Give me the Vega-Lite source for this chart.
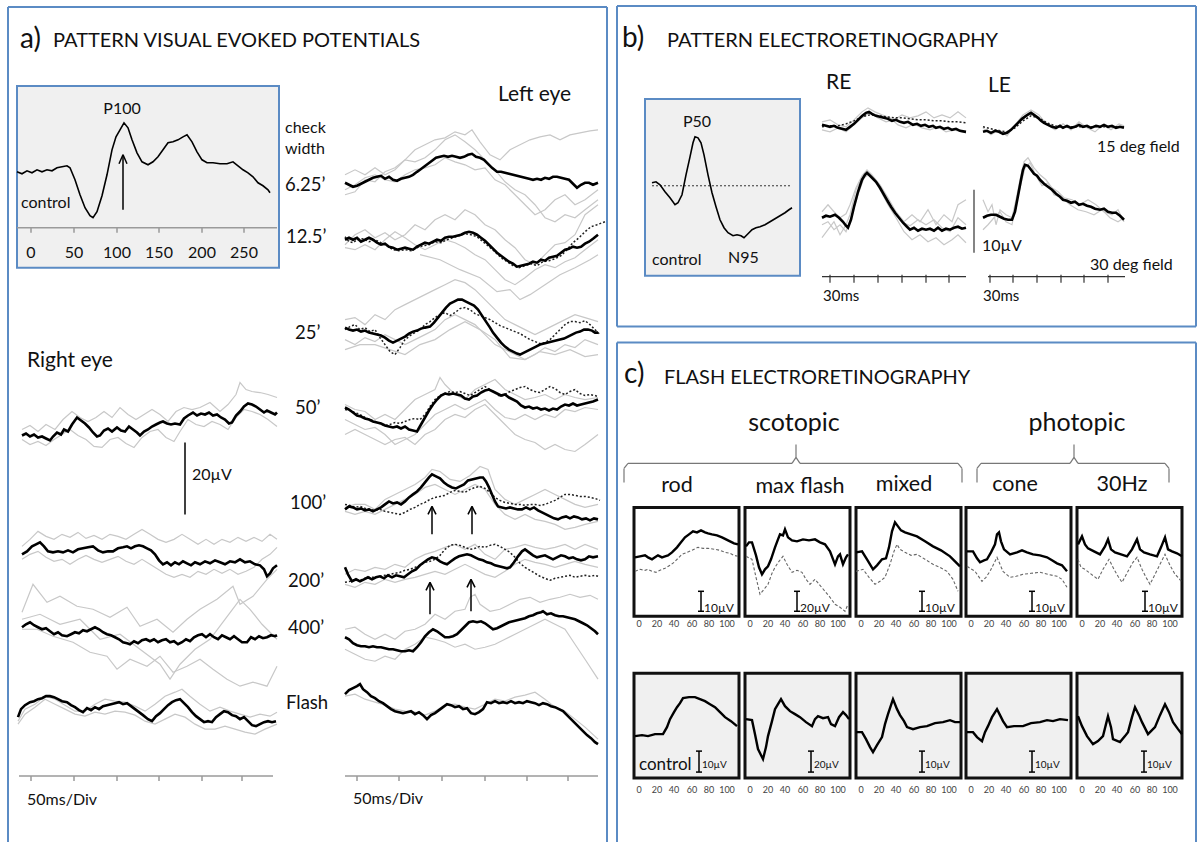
{
"$schema": "https://vega.github.io/schema/vega-lite/v6.json",
"width": 1200, "height": 843,
"autosize": {"type": "fit", "contains": "padding"},
"padding": 0,
"background": "white",
"config": {"view": {"stroke": null}, "font": "Lato"},
"encoding": {
  "x": {"field": "x", "type": "quantitative", "scale": {"domain": [0, 1200], "nice": false, "zero": false}, "axis": null},
  "y": {"field": "y", "type": "quantitative", "scale": {"domain": [0, 843], "nice": false, "zero": false, "reverse": true}, "axis": null}
},
"datasets": {
"boxes": [
{"k":"ins","x":17,"x2":279,"y":86,"y2":268},
{"k":"ins","x":645,"x2":800,"y":99,"y2":276},
{"k":"ew","x":634,"x2":739,"y":508,"y2":617},
{"k":"ew","x":745,"x2":850,"y":508,"y2":617},
{"k":"ew","x":856,"x2":961,"y":508,"y2":617},
{"k":"ew","x":966,"x2":1071,"y":508,"y2":617},
{"k":"ew","x":1077,"x2":1182,"y":508,"y2":617},
{"k":"eg","x":634,"x2":739,"y":674,"y2":779},
{"k":"eg","x":745,"x2":850,"y":674,"y2":779},
{"k":"eg","x":856,"x2":961,"y":674,"y2":779},
{"k":"eg","x":966,"x2":1071,"y":674,"y2":779},
{"k":"eg","x":1077,"x2":1182,"y":674,"y2":779}
],
"rules": [
{"s":"pb","x":8,"y":7,"x2":607,"y2":7},{"s":"pb","x":8,"y":7,"x2":8,"y2":843},{"s":"pb","x":607,"y":7,"x2":607,"y2":843},
{"s":"pb","x":617,"y":6,"x2":1196,"y2":6},{"s":"pb","x":617,"y":6,"x2":617,"y2":327},{"s":"pb","x":1196,"y":6,"x2":1196,"y2":327},{"s":"pb","x":617,"y":327,"x2":1196,"y2":327},
{"s":"pb","x":617,"y":343,"x2":1196,"y2":343},{"s":"pb","x":617,"y":343,"x2":617,"y2":843},{"s":"pb","x":1196,"y":343,"x2":1196,"y2":843},
{"s":"ax","x":17,"y":228,"x2":277,"y2":228},
{"s":"ax","x":31,"y":228,"x2":31,"y2":233},{"s":"ax","x":74,"y":228,"x2":74,"y2":233},{"s":"ax","x":117,"y":228,"x2":117,"y2":233},{"s":"ax","x":159,"y":228,"x2":159,"y2":233},{"s":"ax","x":202,"y":228,"x2":202,"y2":233},{"s":"ax","x":244,"y":228,"x2":244,"y2":233},
{"s":"ax","x":19,"y":777,"x2":273,"y2":777},
{"s":"ax","x":31,"y":777,"x2":31,"y2":782},{"s":"ax","x":74,"y":777,"x2":74,"y2":782},{"s":"ax","x":117,"y":777,"x2":117,"y2":782},{"s":"ax","x":159,"y":777,"x2":159,"y2":782},{"s":"ax","x":202,"y":777,"x2":202,"y2":782},{"s":"ax","x":242,"y":777,"x2":242,"y2":782},
{"s":"ax","x":345,"y":777,"x2":598,"y2":777},
{"s":"ax","x":357,"y":777,"x2":357,"y2":782},{"s":"ax","x":399,"y":777,"x2":399,"y2":782},{"s":"ax","x":442,"y":777,"x2":442,"y2":782},{"s":"ax","x":485,"y":777,"x2":485,"y2":782},{"s":"ax","x":527,"y":777,"x2":527,"y2":782},{"s":"ax","x":568,"y":777,"x2":568,"y2":782},
{"s":"axk","x":822,"y":277,"x2":966,"y2":277},
{"s":"axk","x":830,"y":275,"x2":830,"y2":283},{"s":"axk","x":854,"y":275,"x2":854,"y2":283},{"s":"axk","x":878,"y":275,"x2":878,"y2":283},{"s":"axk","x":902,"y":275,"x2":902,"y2":283},{"s":"axk","x":926,"y":275,"x2":926,"y2":283},{"s":"axk","x":949,"y":275,"x2":949,"y2":283},
{"s":"axk","x":988,"y":277,"x2":1125,"y2":277},
{"s":"axk","x":990,"y":275,"x2":990,"y2":283},{"s":"axk","x":1013,"y":275,"x2":1013,"y2":283},{"s":"axk","x":1037,"y":275,"x2":1037,"y2":283},{"s":"axk","x":1061,"y":275,"x2":1061,"y2":283},{"s":"axk","x":1084,"y":275,"x2":1084,"y2":283},{"s":"axk","x":1108,"y":275,"x2":1108,"y2":283},
{"s":"k","x":185,"y":443,"x2":185,"y2":515},
{"s":"axk","x":974,"y":190,"x2":974,"y2":253},
{"s":"k","x":123,"y":210,"x2":123,"y2":155},{"s":"k","x":123,"y":155,"x2":119,"y2":164},{"s":"k","x":123,"y":155,"x2":127,"y2":164},
{"s":"k","x":432,"y":535,"x2":432,"y2":507},{"s":"k","x":432,"y":507,"x2":428,"y2":515},{"s":"k","x":432,"y":507,"x2":436,"y2":515},
{"s":"k","x":472,"y":535,"x2":472,"y2":507},{"s":"k","x":472,"y":507,"x2":468,"y2":515},{"s":"k","x":472,"y":507,"x2":476,"y2":515},
{"s":"k","x":430,"y":615,"x2":430,"y2":583},{"s":"k","x":430,"y":583,"x2":426,"y2":591},{"s":"k","x":430,"y":583,"x2":434,"y2":591},
{"s":"k","x":471,"y":612,"x2":471,"y2":580},{"s":"k","x":471,"y":580,"x2":467,"y2":588},{"s":"k","x":471,"y":580,"x2":475,"y2":588},
{"s":"br","x":624,"y":483,"x2":624,"y2":469},{"s":"br","x":624,"y":469,"x2":628,"y2":464},{"s":"br","x":628,"y":464,"x2":792,"y2":464},{"s":"br","x":792,"y":464,"x2":796,"y2":458},{"s":"br","x":796,"y":458,"x2":796,"y2":445},{"s":"br","x":796,"y":458,"x2":800,"y2":464},{"s":"br","x":800,"y":464,"x2":958,"y2":464},{"s":"br","x":958,"y":464,"x2":962,"y2":469},{"s":"br","x":962,"y":469,"x2":962,"y2":483},
{"s":"br","x":977,"y":483,"x2":977,"y2":469},{"s":"br","x":977,"y":469,"x2":981,"y2":464},{"s":"br","x":981,"y":464,"x2":1070,"y2":464},{"s":"br","x":1070,"y":464,"x2":1074,"y2":458},{"s":"br","x":1074,"y":458,"x2":1074,"y2":445},{"s":"br","x":1074,"y":458,"x2":1078,"y2":464},{"s":"br","x":1078,"y":464,"x2":1165,"y2":464},{"s":"br","x":1165,"y":464,"x2":1169,"y2":469},{"s":"br","x":1169,"y":469,"x2":1169,"y2":483},
{"s":"k","x":701,"y":592,"x2":701,"y2":612},{"s":"k","x":698,"y":592,"x2":704,"y2":592},{"s":"k","x":698,"y":612,"x2":704,"y2":612},
{"s":"k","x":797,"y":592,"x2":797,"y2":612},{"s":"k","x":794,"y":592,"x2":800,"y2":592},{"s":"k","x":794,"y":612,"x2":800,"y2":612},
{"s":"k","x":922,"y":592,"x2":922,"y2":612},{"s":"k","x":919,"y":592,"x2":925,"y2":592},{"s":"k","x":919,"y":612,"x2":925,"y2":612},
{"s":"k","x":1032,"y":592,"x2":1032,"y2":612},{"s":"k","x":1029,"y":592,"x2":1035,"y2":592},{"s":"k","x":1029,"y":612,"x2":1035,"y2":612},
{"s":"k","x":1145,"y":592,"x2":1145,"y2":612},{"s":"k","x":1142,"y":592,"x2":1148,"y2":592},{"s":"k","x":1142,"y":612,"x2":1148,"y2":612},
{"s":"k","x":699,"y":752,"x2":699,"y2":773},{"s":"k","x":696,"y":752,"x2":702,"y2":752},{"s":"k","x":696,"y":773,"x2":702,"y2":773},
{"s":"k","x":811,"y":752,"x2":811,"y2":773},{"s":"k","x":808,"y":752,"x2":814,"y2":752},{"s":"k","x":808,"y":773,"x2":814,"y2":773},
{"s":"k","x":922,"y":752,"x2":922,"y2":773},{"s":"k","x":919,"y":752,"x2":925,"y2":752},{"s":"k","x":919,"y":773,"x2":925,"y2":773},
{"s":"k","x":1032,"y":752,"x2":1032,"y2":773},{"s":"k","x":1029,"y":752,"x2":1035,"y2":752},{"s":"k","x":1029,"y":773,"x2":1035,"y2":773},
{"s":"k","x":1144,"y":752,"x2":1144,"y2":773},{"s":"k","x":1141,"y":752,"x2":1147,"y2":752},{"s":"k","x":1141,"y":773,"x2":1147,"y2":773},
{"s":"dl","x":652,"y":186,"x2":792,"y2":186}
],
"texts": [
{"t":"a)","x":20,"y":48,"r":"big"},
{"t":"PATTERN VISUAL EVOKED POTENTIALS","x":53,"y":47,"r":"title"},
{"t":"P100","x":122,"y":114,"r":"labc"},
{"t":"control","x":21,"y":208,"r":"lab"},
{"t":"0","x":31,"y":258,"r":"labc"},{"t":"50","x":74,"y":258,"r":"labc"},{"t":"100","x":117,"y":258,"r":"labc"},{"t":"150","x":159,"y":258,"r":"labc"},{"t":"200","x":202,"y":258,"r":"labc"},{"t":"250","x":244,"y":258,"r":"labc"},
{"t":"check","x":285,"y":133,"r":"lab"},{"t":"width","x":285,"y":154,"r":"lab"},
{"t":"6.25\u2019","x":285,"y":191,"r":"row"},
{"t":"12.5\u2019","x":286,"y":243,"r":"row"},
{"t":"25\u2019","x":295,"y":339,"r":"row"},
{"t":"50\u2019","x":295,"y":414,"r":"row"},
{"t":"100\u2019","x":290,"y":510,"r":"row"},
{"t":"200\u2019","x":288,"y":588,"r":"row"},
{"t":"400\u2019","x":288,"y":635,"r":"row"},
{"t":"Flash","x":286,"y":710,"r":"row"},
{"t":"Left eye","x":498,"y":101,"r":"eye"},
{"t":"Right eye","x":27,"y":367,"r":"eye"},
{"t":"20\u00b5V","x":192,"y":481,"r":"lab"},
{"t":"50ms/Div","x":27,"y":806,"r":"lab"},
{"t":"50ms/Div","x":353,"y":805,"r":"lab"},
{"t":"b)","x":622,"y":47,"r":"big"},
{"t":"PATTERN ELECTRORETINOGRAPHY","x":667,"y":47,"r":"title"},
{"t":"P50","x":697,"y":127,"r":"labc"},
{"t":"control","x":652,"y":265,"r":"lab"},
{"t":"N95","x":728,"y":263,"r":"lab"},
{"t":"RE","x":826,"y":89,"r":"eye"},
{"t":"LE","x":988,"y":92,"r":"eye"},
{"t":"15 deg field","x":1097,"y":152,"r":"fld"},
{"t":"30 deg field","x":1090,"y":270,"r":"fld"},
{"t":"10\u00b5V","x":982,"y":251,"r":"fld"},
{"t":"30ms","x":823,"y":301,"r":"ms"},
{"t":"30ms","x":983,"y":301,"r":"ms"},
{"t":"c)","x":624,"y":383,"r":"big"},
{"t":"FLASH ELECTRORETINOGRAPHY","x":664,"y":384,"r":"title"},
{"t":"scotopic","x":794,"y":432,"r":"sc"},
{"t":"photopic","x":1077,"y":432,"r":"sc"},
{"t":"rod","x":677,"y":493,"r":"ty"},
{"t":"max flash","x":800,"y":494,"r":"ty"},
{"t":"mixed","x":904,"y":492,"r":"ty"},
{"t":"cone","x":1015,"y":492,"r":"ty"},
{"t":"30Hz","x":1122,"y":492,"r":"ty"},
{"t":"10\u00b5V","x":704,"y":613,"r":"es"},
{"t":"20\u00b5V","x":800,"y":613,"r":"es"},
{"t":"10\u00b5V","x":925,"y":613,"r":"es"},
{"t":"10\u00b5V","x":1035,"y":613,"r":"es"},
{"t":"10\u00b5V","x":1148,"y":613,"r":"es"},
{"t":"control","x":639,"y":771,"r":"ctl"},
{"t":"10\u00b5V","x":702,"y":769,"r":"ess"},
{"t":"20\u00b5V","x":814,"y":769,"r":"ess"},
{"t":"10\u00b5V","x":925,"y":769,"r":"ess"},
{"t":"10\u00b5V","x":1035,"y":769,"r":"ess"},
{"t":"10\u00b5V","x":1147,"y":769,"r":"ess"},
{"t":"0","x":639,"y":628,"r":"et"},{"t":"20","x":657,"y":628,"r":"et"},{"t":"40","x":674,"y":628,"r":"et"},{"t":"60","x":692,"y":628,"r":"et"},{"t":"80","x":709,"y":628,"r":"et"},{"t":"100","x":727,"y":628,"r":"et"},
{"t":"0","x":750,"y":628,"r":"et"},{"t":"20","x":768,"y":628,"r":"et"},{"t":"40","x":785,"y":628,"r":"et"},{"t":"60","x":803,"y":628,"r":"et"},{"t":"80","x":820,"y":628,"r":"et"},{"t":"100","x":838,"y":628,"r":"et"},
{"t":"0","x":861,"y":628,"r":"et"},{"t":"20","x":879,"y":628,"r":"et"},{"t":"40","x":896,"y":628,"r":"et"},{"t":"60","x":914,"y":628,"r":"et"},{"t":"80","x":931,"y":628,"r":"et"},{"t":"100","x":949,"y":628,"r":"et"},
{"t":"0","x":971,"y":628,"r":"et"},{"t":"20","x":989,"y":628,"r":"et"},{"t":"40","x":1006,"y":628,"r":"et"},{"t":"60","x":1024,"y":628,"r":"et"},{"t":"80","x":1041,"y":628,"r":"et"},{"t":"100","x":1059,"y":628,"r":"et"},
{"t":"0","x":1082,"y":628,"r":"et"},{"t":"20","x":1100,"y":628,"r":"et"},{"t":"40","x":1117,"y":628,"r":"et"},{"t":"60","x":1135,"y":628,"r":"et"},{"t":"80","x":1152,"y":628,"r":"et"},{"t":"100","x":1170,"y":628,"r":"et"},
{"t":"0","x":639,"y":794,"r":"et"},{"t":"20","x":657,"y":794,"r":"et"},{"t":"40","x":674,"y":794,"r":"et"},{"t":"60","x":692,"y":794,"r":"et"},{"t":"80","x":709,"y":794,"r":"et"},{"t":"100","x":727,"y":794,"r":"et"},
{"t":"0","x":750,"y":794,"r":"et"},{"t":"20","x":768,"y":794,"r":"et"},{"t":"40","x":785,"y":794,"r":"et"},{"t":"60","x":803,"y":794,"r":"et"},{"t":"80","x":820,"y":794,"r":"et"},{"t":"100","x":838,"y":794,"r":"et"},
{"t":"0","x":861,"y":794,"r":"et"},{"t":"20","x":879,"y":794,"r":"et"},{"t":"40","x":896,"y":794,"r":"et"},{"t":"60","x":914,"y":794,"r":"et"},{"t":"80","x":931,"y":794,"r":"et"},{"t":"100","x":949,"y":794,"r":"et"},
{"t":"0","x":971,"y":794,"r":"et"},{"t":"20","x":989,"y":794,"r":"et"},{"t":"40","x":1006,"y":794,"r":"et"},{"t":"60","x":1024,"y":794,"r":"et"},{"t":"80","x":1041,"y":794,"r":"et"},{"t":"100","x":1059,"y":794,"r":"et"},
{"t":"0","x":1082,"y":794,"r":"et"},{"t":"20","x":1100,"y":794,"r":"et"},{"t":"40","x":1117,"y":794,"r":"et"},{"t":"60","x":1135,"y":794,"r":"et"},{"t":"80","x":1152,"y":794,"r":"et"},{"t":"100","x":1170,"y":794,"r":"et"}
],
"traces": [
{"id":"ac","s":"c","x":17,"y":172},{"id":"ac","s":"c","x":22,"y":174},{"id":"ac","s":"c","x":27,"y":171},{"id":"ac","s":"c","x":32,"y":173},{"id":"ac","s":"c","x":37,"y":170},{"id":"ac","s":"c","x":42,"y":172},{"id":"ac","s":"c","x":47,"y":170},{"id":"ac","s":"c","x":52,"y":171},{"id":"ac","s":"c","x":57,"y":168},{"id":"ac","s":"c","x":62,"y":167},{"id":"ac","s":"c","x":67,"y":166},{"id":"ac","s":"c","x":70,"y":168},{"id":"ac","s":"c","x":75,"y":180},{"id":"ac","s":"c","x":80,"y":195},{"id":"ac","s":"c","x":85,"y":208},{"id":"ac","s":"c","x":90,"y":216},{"id":"ac","s":"c","x":93,"y":218},{"id":"ac","s":"c","x":97,"y":212},{"id":"ac","s":"c","x":102,"y":196},{"id":"ac","s":"c","x":107,"y":175},{"id":"ac","s":"c","x":112,"y":150},{"id":"ac","s":"c","x":116,"y":137},{"id":"ac","s":"c","x":120,"y":130},{"id":"ac","s":"c","x":124,"y":123},{"id":"ac","s":"c","x":128,"y":128},{"id":"ac","s":"c","x":132,"y":140},{"id":"ac","s":"c","x":137,"y":153},{"id":"ac","s":"c","x":142,"y":162},{"id":"ac","s":"c","x":148,"y":165},{"id":"ac","s":"c","x":153,"y":162},{"id":"ac","s":"c","x":158,"y":157},{"id":"ac","s":"c","x":163,"y":150},{"id":"ac","s":"c","x":168,"y":143},{"id":"ac","s":"c","x":173,"y":142},{"id":"ac","s":"c","x":178,"y":140},{"id":"ac","s":"c","x":183,"y":137},{"id":"ac","s":"c","x":187,"y":135},{"id":"ac","s":"c","x":192,"y":142},{"id":"ac","s":"c","x":197,"y":152},{"id":"ac","s":"c","x":202,"y":160},{"id":"ac","s":"c","x":207,"y":163},{"id":"ac","s":"c","x":213,"y":163},{"id":"ac","s":"c","x":220,"y":164},{"id":"ac","s":"c","x":227,"y":164},{"id":"ac","s":"c","x":233,"y":162},{"id":"ac","s":"c","x":238,"y":166},{"id":"ac","s":"c","x":243,"y":170},{"id":"ac","s":"c","x":248,"y":173},{"id":"ac","s":"c","x":253,"y":177},{"id":"ac","s":"c","x":258,"y":183},{"id":"ac","s":"c","x":263,"y":186},{"id":"ac","s":"c","x":268,"y":190},{"id":"ac","s":"c","x":270,"y":193},
{"id":"bc","s":"c","x":652,"y":183},{"id":"bc","s":"c","x":656,"y":182},{"id":"bc","s":"c","x":660,"y":185},{"id":"bc","s":"c","x":665,"y":192},{"id":"bc","s":"c","x":670,"y":198},{"id":"bc","s":"c","x":675,"y":205},{"id":"bc","s":"c","x":678,"y":203},{"id":"bc","s":"c","x":682,"y":195},{"id":"bc","s":"c","x":686,"y":175},{"id":"bc","s":"c","x":690,"y":157},{"id":"bc","s":"c","x":693,"y":143},{"id":"bc","s":"c","x":695,"y":137},{"id":"bc","s":"c","x":698,"y":138},{"id":"bc","s":"c","x":701,"y":143},{"id":"bc","s":"c","x":704,"y":155},{"id":"bc","s":"c","x":708,"y":175},{"id":"bc","s":"c","x":712,"y":193},{"id":"bc","s":"c","x":716,"y":207},{"id":"bc","s":"c","x":720,"y":220},{"id":"bc","s":"c","x":724,"y":228},{"id":"bc","s":"c","x":728,"y":233},{"id":"bc","s":"c","x":733,"y":236},{"id":"bc","s":"c","x":737,"y":235},{"id":"bc","s":"c","x":741,"y":236},{"id":"bc","s":"c","x":744,"y":238},{"id":"bc","s":"c","x":748,"y":234},{"id":"bc","s":"c","x":752,"y":230},{"id":"bc","s":"c","x":756,"y":228},{"id":"bc","s":"c","x":760,"y":227},{"id":"bc","s":"c","x":765,"y":225},{"id":"bc","s":"c","x":770,"y":222},{"id":"bc","s":"c","x":775,"y":219},{"id":"bc","s":"c","x":780,"y":216},{"id":"bc","s":"c","x":785,"y":213},{"id":"bc","s":"c","x":789,"y":210},{"id":"bc","s":"c","x":792,"y":208},

{"id":"r50g1","s":"g","x":22,"y":430},{"id":"r50g1","s":"g","x":30,"y":426},{"id":"r50g1","s":"g","x":38,"y":432},{"id":"r50g1","s":"g","x":46,"y":425},{"id":"r50g1","s":"g","x":55,"y":430},{"id":"r50g1","s":"g","x":63,"y":420},{"id":"r50g1","s":"g","x":72,"y":412},{"id":"r50g1","s":"g","x":80,"y":418},{"id":"r50g1","s":"g","x":88,"y":422},{"id":"r50g1","s":"g","x":96,"y":418},{"id":"r50g1","s":"g","x":104,"y":412},{"id":"r50g1","s":"g","x":112,"y":418},{"id":"r50g1","s":"g","x":120,"y":408},{"id":"r50g1","s":"g","x":128,"y":415},{"id":"r50g1","s":"g","x":136,"y":420},{"id":"r50g1","s":"g","x":144,"y":415},{"id":"r50g1","s":"g","x":152,"y":410},{"id":"r50g1","s":"g","x":160,"y":415},{"id":"r50g1","s":"g","x":168,"y":422},{"id":"r50g1","s":"g","x":176,"y":412},{"id":"r50g1","s":"g","x":184,"y":408},{"id":"r50g1","s":"g","x":192,"y":410},{"id":"r50g1","s":"g","x":200,"y":408},{"id":"r50g1","s":"g","x":210,"y":403},{"id":"r50g1","s":"g","x":220,"y":412},{"id":"r50g1","s":"g","x":228,"y":405},{"id":"r50g1","s":"g","x":236,"y":395},{"id":"r50g1","s":"g","x":240,"y":383},{"id":"r50g1","s":"g","x":246,"y":390},{"id":"r50g1","s":"g","x":252,"y":392},{"id":"r50g1","s":"g","x":260,"y":393},{"id":"r50g1","s":"g","x":268,"y":395},{"id":"r50g1","s":"g","x":277,"y":398},
{"id":"r50g2","s":"g","x":22,"y":440},{"id":"r50g2","s":"g","x":30,"y":445},{"id":"r50g2","s":"g","x":38,"y":442},{"id":"r50g2","s":"g","x":46,"y":446},{"id":"r50g2","s":"g","x":54,"y":440},{"id":"r50g2","s":"g","x":62,"y":435},{"id":"r50g2","s":"g","x":70,"y":430},{"id":"r50g2","s":"g","x":78,"y":436},{"id":"r50g2","s":"g","x":86,"y":440},{"id":"r50g2","s":"g","x":94,"y":447},{"id":"r50g2","s":"g","x":102,"y":448},{"id":"r50g2","s":"g","x":110,"y":440},{"id":"r50g2","s":"g","x":118,"y":438},{"id":"r50g2","s":"g","x":126,"y":444},{"id":"r50g2","s":"g","x":134,"y":448},{"id":"r50g2","s":"g","x":142,"y":438},{"id":"r50g2","s":"g","x":150,"y":432},{"id":"r50g2","s":"g","x":158,"y":430},{"id":"r50g2","s":"g","x":166,"y":438},{"id":"r50g2","s":"g","x":174,"y":442},{"id":"r50g2","s":"g","x":180,"y":432},{"id":"r50g2","s":"g","x":188,"y":420},{"id":"r50g2","s":"g","x":196,"y":425},{"id":"r50g2","s":"g","x":204,"y":427},{"id":"r50g2","s":"g","x":212,"y":422},{"id":"r50g2","s":"g","x":220,"y":425},{"id":"r50g2","s":"g","x":228,"y":430},{"id":"r50g2","s":"g","x":236,"y":418},{"id":"r50g2","s":"g","x":244,"y":410},{"id":"r50g2","s":"g","x":252,"y":412},{"id":"r50g2","s":"g","x":260,"y":415},{"id":"r50g2","s":"g","x":268,"y":420},{"id":"r50g2","s":"g","x":277,"y":427},

{"id":"r100g1","s":"g","x":22,"y":547},{"id":"r100g1","s":"g","x":30,"y":540},{"id":"r100g1","s":"g","x":38,"y":532},{"id":"r100g1","s":"g","x":46,"y":537},{"id":"r100g1","s":"g","x":54,"y":540},{"id":"r100g1","s":"g","x":62,"y":535},{"id":"r100g1","s":"g","x":70,"y":538},{"id":"r100g1","s":"g","x":78,"y":533},{"id":"r100g1","s":"g","x":86,"y":539},{"id":"r100g1","s":"g","x":94,"y":536},{"id":"r100g1","s":"g","x":102,"y":540},{"id":"r100g1","s":"g","x":110,"y":535},{"id":"r100g1","s":"g","x":118,"y":537},{"id":"r100g1","s":"g","x":126,"y":540},{"id":"r100g1","s":"g","x":134,"y":535},{"id":"r100g1","s":"g","x":142,"y":530},{"id":"r100g1","s":"g","x":150,"y":535},{"id":"r100g1","s":"g","x":158,"y":540},{"id":"r100g1","s":"g","x":166,"y":543},{"id":"r100g1","s":"g","x":174,"y":540},{"id":"r100g1","s":"g","x":182,"y":535},{"id":"r100g1","s":"g","x":190,"y":540},{"id":"r100g1","s":"g","x":198,"y":545},{"id":"r100g1","s":"g","x":206,"y":540},{"id":"r100g1","s":"g","x":214,"y":545},{"id":"r100g1","s":"g","x":222,"y":540},{"id":"r100g1","s":"g","x":230,"y":543},{"id":"r100g1","s":"g","x":238,"y":538},{"id":"r100g1","s":"g","x":246,"y":542},{"id":"r100g1","s":"g","x":254,"y":538},{"id":"r100g1","s":"g","x":262,"y":542},{"id":"r100g1","s":"g","x":270,"y":535},{"id":"r100g1","s":"g","x":277,"y":540},
{"id":"r100g2","s":"g","x":22,"y":560},{"id":"r100g2","s":"g","x":30,"y":555},{"id":"r100g2","s":"g","x":38,"y":552},{"id":"r100g2","s":"g","x":46,"y":558},{"id":"r100g2","s":"g","x":54,"y":562},{"id":"r100g2","s":"g","x":62,"y":560},{"id":"r100g2","s":"g","x":70,"y":565},{"id":"r100g2","s":"g","x":78,"y":560},{"id":"r100g2","s":"g","x":86,"y":556},{"id":"r100g2","s":"g","x":94,"y":560},{"id":"r100g2","s":"g","x":102,"y":563},{"id":"r100g2","s":"g","x":110,"y":560},{"id":"r100g2","s":"g","x":118,"y":557},{"id":"r100g2","s":"g","x":126,"y":562},{"id":"r100g2","s":"g","x":134,"y":565},{"id":"r100g2","s":"g","x":142,"y":560},{"id":"r100g2","s":"g","x":150,"y":565},{"id":"r100g2","s":"g","x":158,"y":570},{"id":"r100g2","s":"g","x":166,"y":575},{"id":"r100g2","s":"g","x":174,"y":578},{"id":"r100g2","s":"g","x":182,"y":575},{"id":"r100g2","s":"g","x":190,"y":578},{"id":"r100g2","s":"g","x":198,"y":572},{"id":"r100g2","s":"g","x":206,"y":575},{"id":"r100g2","s":"g","x":214,"y":570},{"id":"r100g2","s":"g","x":222,"y":574},{"id":"r100g2","s":"g","x":230,"y":570},{"id":"r100g2","s":"g","x":238,"y":575},{"id":"r100g2","s":"g","x":246,"y":572},{"id":"r100g2","s":"g","x":254,"y":568},{"id":"r100g2","s":"g","x":262,"y":560},{"id":"r100g2","s":"g","x":270,"y":555},{"id":"r100g2","s":"g","x":277,"y":548},

{"id":"r400g1","s":"g","x":22,"y":613},{"id":"r400g1","s":"g","x":33,"y":585},{"id":"r400g1","s":"g","x":47,"y":603},{"id":"r400g1","s":"g","x":60,"y":597},{"id":"r400g1","s":"g","x":77,"y":607},{"id":"r400g1","s":"g","x":93,"y":610},{"id":"r400g1","s":"g","x":110,"y":618},{"id":"r400g1","s":"g","x":127,"y":608},{"id":"r400g1","s":"g","x":140,"y":627},{"id":"r400g1","s":"g","x":157,"y":620},{"id":"r400g1","s":"g","x":173,"y":633},{"id":"r400g1","s":"g","x":187,"y":620},{"id":"r400g1","s":"g","x":200,"y":610},{"id":"r400g1","s":"g","x":217,"y":600},{"id":"r400g1","s":"g","x":233,"y":587},{"id":"r400g1","s":"g","x":240,"y":605},{"id":"r400g1","s":"g","x":253,"y":597},{"id":"r400g1","s":"g","x":267,"y":580},{"id":"r400g1","s":"g","x":277,"y":570},
{"id":"r400g2","s":"g","x":22,"y":630},{"id":"r400g2","s":"g","x":37,"y":630},{"id":"r400g2","s":"g","x":53,"y":637},{"id":"r400g2","s":"g","x":73,"y":643},{"id":"r400g2","s":"g","x":90,"y":653},{"id":"r400g2","s":"g","x":107,"y":657},{"id":"r400g2","s":"g","x":117,"y":670},{"id":"r400g2","s":"g","x":130,"y":660},{"id":"r400g2","s":"g","x":147,"y":667},{"id":"r400g2","s":"g","x":160,"y":657},{"id":"r400g2","s":"g","x":173,"y":673},{"id":"r400g2","s":"g","x":187,"y":667},{"id":"r400g2","s":"g","x":200,"y":660},{"id":"r400g2","s":"g","x":213,"y":670},{"id":"r400g2","s":"g","x":227,"y":680},{"id":"r400g2","s":"g","x":240,"y":687},{"id":"r400g2","s":"g","x":253,"y":683},{"id":"r400g2","s":"g","x":267,"y":687},{"id":"r400g2","s":"g","x":277,"y":667},
{"id":"r400g3","s":"g","x":22,"y":620},{"id":"r400g3","s":"g","x":40,"y":615},{"id":"r400g3","s":"g","x":60,"y":625},{"id":"r400g3","s":"g","x":80,"y":620},{"id":"r400g3","s":"g","x":100,"y":640},{"id":"r400g3","s":"g","x":120,"y":635},{"id":"r400g3","s":"g","x":140,"y":650},{"id":"r400g3","s":"g","x":160,"y":665},{"id":"r400g3","s":"g","x":170,"y":680},{"id":"r400g3","s":"g","x":180,"y":665},{"id":"r400g3","s":"g","x":195,"y":650},{"id":"r400g3","s":"g","x":210,"y":640},{"id":"r400g3","s":"g","x":225,"y":620},{"id":"r400g3","s":"g","x":240,"y":600},{"id":"r400g3","s":"g","x":250,"y":610},{"id":"r400g3","s":"g","x":262,"y":625},{"id":"r400g3","s":"g","x":277,"y":640},

{"id":"rfg1","s":"g","x":18,"y":722},{"id":"rfg1","s":"g","x":25,"y":710},{"id":"rfg1","s":"g","x":35,"y":705},{"id":"rfg1","s":"g","x":45,"y":697},{"id":"rfg1","s":"g","x":55,"y":700},{"id":"rfg1","s":"g","x":65,"y":706},{"id":"rfg1","s":"g","x":75,"y":712},{"id":"rfg1","s":"g","x":85,"y":712},{"id":"rfg1","s":"g","x":95,"y":705},{"id":"rfg1","s":"g","x":105,"y":700},{"id":"rfg1","s":"g","x":115,"y":702},{"id":"rfg1","s":"g","x":125,"y":703},{"id":"rfg1","s":"g","x":135,"y":707},{"id":"rfg1","s":"g","x":145,"y":712},{"id":"rfg1","s":"g","x":155,"y":705},{"id":"rfg1","s":"g","x":165,"y":697},{"id":"rfg1","s":"g","x":175,"y":693},{"id":"rfg1","s":"g","x":182,"y":690},{"id":"rfg1","s":"g","x":190,"y":697},{"id":"rfg1","s":"g","x":200,"y":705},{"id":"rfg1","s":"g","x":210,"y":712},{"id":"rfg1","s":"g","x":220,"y":708},{"id":"rfg1","s":"g","x":230,"y":712},{"id":"rfg1","s":"g","x":240,"y":715},{"id":"rfg1","s":"g","x":250,"y":718},{"id":"rfg1","s":"g","x":260,"y":715},{"id":"rfg1","s":"g","x":270,"y":717},{"id":"rfg1","s":"g","x":277,"y":713},
{"id":"rfg2","s":"g","x":18,"y":725},{"id":"rfg2","s":"g","x":25,"y":715},{"id":"rfg2","s":"g","x":35,"y":708},{"id":"rfg2","s":"g","x":45,"y":700},{"id":"rfg2","s":"g","x":55,"y":705},{"id":"rfg2","s":"g","x":65,"y":710},{"id":"rfg2","s":"g","x":75,"y":715},{"id":"rfg2","s":"g","x":85,"y":717},{"id":"rfg2","s":"g","x":95,"y":713},{"id":"rfg2","s":"g","x":105,"y":715},{"id":"rfg2","s":"g","x":115,"y":712},{"id":"rfg2","s":"g","x":125,"y":713},{"id":"rfg2","s":"g","x":135,"y":716},{"id":"rfg2","s":"g","x":145,"y":722},{"id":"rfg2","s":"g","x":155,"y":725},{"id":"rfg2","s":"g","x":165,"y":720},{"id":"rfg2","s":"g","x":175,"y":715},{"id":"rfg2","s":"g","x":185,"y":718},{"id":"rfg2","s":"g","x":195,"y":725},{"id":"rfg2","s":"g","x":205,"y":730},{"id":"rfg2","s":"g","x":215,"y":730},{"id":"rfg2","s":"g","x":225,"y":727},{"id":"rfg2","s":"g","x":235,"y":730},{"id":"rfg2","s":"g","x":245,"y":733},{"id":"rfg2","s":"g","x":255,"y":735},{"id":"rfg2","s":"g","x":265,"y":730},{"id":"rfg2","s":"g","x":277,"y":725},

{"id":"l6g1","s":"g","x":345,"y":175},{"id":"l6g1","s":"g","x":355,"y":170},{"id":"l6g1","s":"g","x":365,"y":175},{"id":"l6g1","s":"g","x":375,"y":168},{"id":"l6g1","s":"g","x":385,"y":175},{"id":"l6g1","s":"g","x":395,"y":170},{"id":"l6g1","s":"g","x":405,"y":160},{"id":"l6g1","s":"g","x":415,"y":150},{"id":"l6g1","s":"g","x":425,"y":145},{"id":"l6g1","s":"g","x":435,"y":140},{"id":"l6g1","s":"g","x":445,"y":138},{"id":"l6g1","s":"g","x":455,"y":132},{"id":"l6g1","s":"g","x":465,"y":135},{"id":"l6g1","s":"g","x":472,"y":130},{"id":"l6g1","s":"g","x":480,"y":142},{"id":"l6g1","s":"g","x":490,"y":155},{"id":"l6g1","s":"g","x":500,"y":160},{"id":"l6g1","s":"g","x":510,"y":150},{"id":"l6g1","s":"g","x":520,"y":145},{"id":"l6g1","s":"g","x":530,"y":140},{"id":"l6g1","s":"g","x":540,"y":137},{"id":"l6g1","s":"g","x":550,"y":135},{"id":"l6g1","s":"g","x":560,"y":140},{"id":"l6g1","s":"g","x":570,"y":135},{"id":"l6g1","s":"g","x":580,"y":133},{"id":"l6g1","s":"g","x":590,"y":131},{"id":"l6g1","s":"g","x":598,"y":130},
{"id":"l6g2","s":"g","x":345,"y":190},{"id":"l6g2","s":"g","x":355,"y":185},{"id":"l6g2","s":"g","x":365,"y":178},{"id":"l6g2","s":"g","x":375,"y":175},{"id":"l6g2","s":"g","x":385,"y":180},{"id":"l6g2","s":"g","x":395,"y":182},{"id":"l6g2","s":"g","x":405,"y":175},{"id":"l6g2","s":"g","x":415,"y":170},{"id":"l6g2","s":"g","x":425,"y":168},{"id":"l6g2","s":"g","x":435,"y":165},{"id":"l6g2","s":"g","x":445,"y":158},{"id":"l6g2","s":"g","x":455,"y":162},{"id":"l6g2","s":"g","x":465,"y":165},{"id":"l6g2","s":"g","x":475,"y":170},{"id":"l6g2","s":"g","x":485,"y":168},{"id":"l6g2","s":"g","x":495,"y":180},{"id":"l6g2","s":"g","x":505,"y":185},{"id":"l6g2","s":"g","x":515,"y":195},{"id":"l6g2","s":"g","x":525,"y":205},{"id":"l6g2","s":"g","x":535,"y":215},{"id":"l6g2","s":"g","x":545,"y":210},{"id":"l6g2","s":"g","x":555,"y":200},{"id":"l6g2","s":"g","x":565,"y":195},{"id":"l6g2","s":"g","x":575,"y":205},{"id":"l6g2","s":"g","x":585,"y":200},{"id":"l6g2","s":"g","x":598,"y":190},
{"id":"l6g3","s":"g","x":345,"y":195},{"id":"l6g3","s":"g","x":355,"y":192},{"id":"l6g3","s":"g","x":365,"y":180},{"id":"l6g3","s":"g","x":375,"y":182},{"id":"l6g3","s":"g","x":385,"y":172},{"id":"l6g3","s":"g","x":395,"y":168},{"id":"l6g3","s":"g","x":405,"y":160},{"id":"l6g3","s":"g","x":415,"y":162},{"id":"l6g3","s":"g","x":425,"y":158},{"id":"l6g3","s":"g","x":435,"y":150},{"id":"l6g3","s":"g","x":445,"y":140},{"id":"l6g3","s":"g","x":455,"y":135},{"id":"l6g3","s":"g","x":465,"y":142},{"id":"l6g3","s":"g","x":475,"y":150},{"id":"l6g3","s":"g","x":485,"y":160},{"id":"l6g3","s":"g","x":495,"y":170},{"id":"l6g3","s":"g","x":505,"y":182},{"id":"l6g3","s":"g","x":515,"y":190},{"id":"l6g3","s":"g","x":525,"y":195},{"id":"l6g3","s":"g","x":535,"y":205},{"id":"l6g3","s":"g","x":545,"y":218},{"id":"l6g3","s":"g","x":555,"y":222},{"id":"l6g3","s":"g","x":565,"y":215},{"id":"l6g3","s":"g","x":575,"y":218},{"id":"l6g3","s":"g","x":585,"y":210},{"id":"l6g3","s":"g","x":598,"y":200},

{"id":"l12g1","s":"g","x":345,"y":245},{"id":"l12g1","s":"g","x":355,"y":235},{"id":"l12g1","s":"g","x":365,"y":230},{"id":"l12g1","s":"g","x":375,"y":238},{"id":"l12g1","s":"g","x":385,"y":233},{"id":"l12g1","s":"g","x":395,"y":240},{"id":"l12g1","s":"g","x":405,"y":235},{"id":"l12g1","s":"g","x":415,"y":225},{"id":"l12g1","s":"g","x":425,"y":230},{"id":"l12g1","s":"g","x":435,"y":220},{"id":"l12g1","s":"g","x":445,"y":215},{"id":"l12g1","s":"g","x":455,"y":220},{"id":"l12g1","s":"g","x":465,"y":210},{"id":"l12g1","s":"g","x":475,"y":215},{"id":"l12g1","s":"g","x":485,"y":225},{"id":"l12g1","s":"g","x":495,"y":230},{"id":"l12g1","s":"g","x":505,"y":240},{"id":"l12g1","s":"g","x":515,"y":248},{"id":"l12g1","s":"g","x":525,"y":260},{"id":"l12g1","s":"g","x":535,"y":265},{"id":"l12g1","s":"g","x":545,"y":255},{"id":"l12g1","s":"g","x":555,"y":245},{"id":"l12g1","s":"g","x":565,"y":243},{"id":"l12g1","s":"g","x":575,"y":235},{"id":"l12g1","s":"g","x":585,"y":215},{"id":"l12g1","s":"g","x":598,"y":205},
{"id":"l12g2","s":"g","x":345,"y":248},{"id":"l12g2","s":"g","x":355,"y":250},{"id":"l12g2","s":"g","x":365,"y":245},{"id":"l12g2","s":"g","x":375,"y":250},{"id":"l12g2","s":"g","x":385,"y":240},{"id":"l12g2","s":"g","x":395,"y":232},{"id":"l12g2","s":"g","x":405,"y":238},{"id":"l12g2","s":"g","x":415,"y":245},{"id":"l12g2","s":"g","x":425,"y":250},{"id":"l12g2","s":"g","x":435,"y":245},{"id":"l12g2","s":"g","x":445,"y":240},{"id":"l12g2","s":"g","x":455,"y":243},{"id":"l12g2","s":"g","x":465,"y":248},{"id":"l12g2","s":"g","x":475,"y":255},{"id":"l12g2","s":"g","x":485,"y":260},{"id":"l12g2","s":"g","x":495,"y":270},{"id":"l12g2","s":"g","x":505,"y":280},{"id":"l12g2","s":"g","x":515,"y":285},{"id":"l12g2","s":"g","x":525,"y":278},{"id":"l12g2","s":"g","x":535,"y":270},{"id":"l12g2","s":"g","x":545,"y":265},{"id":"l12g2","s":"g","x":555,"y":268},{"id":"l12g2","s":"g","x":565,"y":262},{"id":"l12g2","s":"g","x":575,"y":258},{"id":"l12g2","s":"g","x":585,"y":250},{"id":"l12g2","s":"g","x":598,"y":240},
{"id":"l12g3","s":"g","x":420,"y":255},{"id":"l12g3","s":"g","x":440,"y":260},{"id":"l12g3","s":"g","x":460,"y":270},{"id":"l12g3","s":"g","x":480,"y":278},{"id":"l12g3","s":"g","x":497,"y":292},{"id":"l12g3","s":"g","x":510,"y":290},{"id":"l12g3","s":"g","x":520,"y":300},{"id":"l12g3","s":"g","x":530,"y":295},{"id":"l12g3","s":"g","x":545,"y":285},{"id":"l12g3","s":"g","x":560,"y":275},{"id":"l12g3","s":"g","x":575,"y":268},{"id":"l12g3","s":"g","x":590,"y":260},{"id":"l12g3","s":"g","x":598,"y":255},

{"id":"l25g1","s":"g","x":345,"y":320},{"id":"l25g1","s":"g","x":355,"y":318},{"id":"l25g1","s":"g","x":365,"y":325},{"id":"l25g1","s":"g","x":375,"y":315},{"id":"l25g1","s":"g","x":385,"y":320},{"id":"l25g1","s":"g","x":395,"y":310},{"id":"l25g1","s":"g","x":405,"y":305},{"id":"l25g1","s":"g","x":415,"y":300},{"id":"l25g1","s":"g","x":425,"y":295},{"id":"l25g1","s":"g","x":435,"y":290},{"id":"l25g1","s":"g","x":445,"y":285},{"id":"l25g1","s":"g","x":455,"y":280},{"id":"l25g1","s":"g","x":465,"y":283},{"id":"l25g1","s":"g","x":475,"y":290},{"id":"l25g1","s":"g","x":485,"y":300},{"id":"l25g1","s":"g","x":495,"y":310},{"id":"l25g1","s":"g","x":505,"y":320},{"id":"l25g1","s":"g","x":515,"y":325},{"id":"l25g1","s":"g","x":525,"y":330},{"id":"l25g1","s":"g","x":535,"y":335},{"id":"l25g1","s":"g","x":545,"y":330},{"id":"l25g1","s":"g","x":555,"y":325},{"id":"l25g1","s":"g","x":565,"y":320},{"id":"l25g1","s":"g","x":575,"y":315},{"id":"l25g1","s":"g","x":585,"y":318},{"id":"l25g1","s":"g","x":598,"y":322},
{"id":"l25g2","s":"g","x":345,"y":340},{"id":"l25g2","s":"g","x":355,"y":345},{"id":"l25g2","s":"g","x":365,"y":338},{"id":"l25g2","s":"g","x":375,"y":342},{"id":"l25g2","s":"g","x":385,"y":335},{"id":"l25g2","s":"g","x":395,"y":340},{"id":"l25g2","s":"g","x":405,"y":345},{"id":"l25g2","s":"g","x":415,"y":340},{"id":"l25g2","s":"g","x":425,"y":335},{"id":"l25g2","s":"g","x":435,"y":330},{"id":"l25g2","s":"g","x":445,"y":320},{"id":"l25g2","s":"g","x":455,"y":315},{"id":"l25g2","s":"g","x":465,"y":320},{"id":"l25g2","s":"g","x":475,"y":325},{"id":"l25g2","s":"g","x":485,"y":335},{"id":"l25g2","s":"g","x":495,"y":345},{"id":"l25g2","s":"g","x":505,"y":350},{"id":"l25g2","s":"g","x":515,"y":355},{"id":"l25g2","s":"g","x":525,"y":360},{"id":"l25g2","s":"g","x":535,"y":355},{"id":"l25g2","s":"g","x":545,"y":348},{"id":"l25g2","s":"g","x":555,"y":352},{"id":"l25g2","s":"g","x":565,"y":345},{"id":"l25g2","s":"g","x":575,"y":348},{"id":"l25g2","s":"g","x":585,"y":340},{"id":"l25g2","s":"g","x":598,"y":345},
{"id":"l25g3","s":"g","x":345,"y":350},{"id":"l25g3","s":"g","x":360,"y":345},{"id":"l25g3","s":"g","x":375,"y":345},{"id":"l25g3","s":"g","x":390,"y":350},{"id":"l25g3","s":"g","x":405,"y":355},{"id":"l25g3","s":"g","x":420,"y":345},{"id":"l25g3","s":"g","x":435,"y":340},{"id":"l25g3","s":"g","x":450,"y":330},{"id":"l25g3","s":"g","x":465,"y":322},{"id":"l25g3","s":"g","x":480,"y":330},{"id":"l25g3","s":"g","x":495,"y":340},{"id":"l25g3","s":"g","x":510,"y":358},{"id":"l25g3","s":"g","x":525,"y":360},{"id":"l25g3","s":"g","x":540,"y":352},{"id":"l25g3","s":"g","x":555,"y":355},{"id":"l25g3","s":"g","x":570,"y":350},{"id":"l25g3","s":"g","x":585,"y":357},{"id":"l25g3","s":"g","x":598,"y":355},

{"id":"l50g1","s":"g","x":345,"y":405},{"id":"l50g1","s":"g","x":355,"y":410},{"id":"l50g1","s":"g","x":365,"y":412},{"id":"l50g1","s":"g","x":375,"y":420},{"id":"l50g1","s":"g","x":385,"y":415},{"id":"l50g1","s":"g","x":395,"y":420},{"id":"l50g1","s":"g","x":405,"y":410},{"id":"l50g1","s":"g","x":415,"y":400},{"id":"l50g1","s":"g","x":425,"y":395},{"id":"l50g1","s":"g","x":435,"y":390},{"id":"l50g1","s":"g","x":440,"y":378},{"id":"l50g1","s":"g","x":445,"y":385},{"id":"l50g1","s":"g","x":455,"y":395},{"id":"l50g1","s":"g","x":465,"y":400},{"id":"l50g1","s":"g","x":475,"y":390},{"id":"l50g1","s":"g","x":485,"y":385},{"id":"l50g1","s":"g","x":495,"y":380},{"id":"l50g1","s":"g","x":505,"y":390},{"id":"l50g1","s":"g","x":515,"y":395},{"id":"l50g1","s":"g","x":525,"y":400},{"id":"l50g1","s":"g","x":535,"y":398},{"id":"l50g1","s":"g","x":545,"y":395},{"id":"l50g1","s":"g","x":555,"y":400},{"id":"l50g1","s":"g","x":565,"y":395},{"id":"l50g1","s":"g","x":575,"y":398},{"id":"l50g1","s":"g","x":585,"y":400},{"id":"l50g1","s":"g","x":598,"y":398},
{"id":"l50g2","s":"g","x":345,"y":435},{"id":"l50g2","s":"g","x":355,"y":430},{"id":"l50g2","s":"g","x":365,"y":435},{"id":"l50g2","s":"g","x":375,"y":440},{"id":"l50g2","s":"g","x":385,"y":445},{"id":"l50g2","s":"g","x":395,"y":440},{"id":"l50g2","s":"g","x":405,"y":438},{"id":"l50g2","s":"g","x":415,"y":445},{"id":"l50g2","s":"g","x":425,"y":435},{"id":"l50g2","s":"g","x":435,"y":430},{"id":"l50g2","s":"g","x":445,"y":420},{"id":"l50g2","s":"g","x":455,"y":415},{"id":"l50g2","s":"g","x":465,"y":418},{"id":"l50g2","s":"g","x":475,"y":410},{"id":"l50g2","s":"g","x":485,"y":405},{"id":"l50g2","s":"g","x":495,"y":415},{"id":"l50g2","s":"g","x":505,"y":425},{"id":"l50g2","s":"g","x":515,"y":435},{"id":"l50g2","s":"g","x":525,"y":440},{"id":"l50g2","s":"g","x":535,"y":443},{"id":"l50g2","s":"g","x":545,"y":450},{"id":"l50g2","s":"g","x":555,"y":445},{"id":"l50g2","s":"g","x":565,"y":450},{"id":"l50g2","s":"g","x":575,"y":452},{"id":"l50g2","s":"g","x":585,"y":445},{"id":"l50g2","s":"g","x":598,"y":435},
{"id":"l50g3","s":"g","x":345,"y":420},{"id":"l50g3","s":"g","x":355,"y":425},{"id":"l50g3","s":"g","x":365,"y":430},{"id":"l50g3","s":"g","x":375,"y":428},{"id":"l50g3","s":"g","x":385,"y":435},{"id":"l50g3","s":"g","x":395,"y":445},{"id":"l50g3","s":"g","x":405,"y":440},{"id":"l50g3","s":"g","x":415,"y":435},{"id":"l50g3","s":"g","x":425,"y":425},{"id":"l50g3","s":"g","x":435,"y":415},{"id":"l50g3","s":"g","x":445,"y":410},{"id":"l50g3","s":"g","x":455,"y":405},{"id":"l50g3","s":"g","x":465,"y":410},{"id":"l50g3","s":"g","x":475,"y":405},{"id":"l50g3","s":"g","x":485,"y":400},{"id":"l50g3","s":"g","x":495,"y":410},{"id":"l50g3","s":"g","x":505,"y":418},{"id":"l50g3","s":"g","x":515,"y":420},{"id":"l50g3","s":"g","x":525,"y":415},{"id":"l50g3","s":"g","x":535,"y":420},{"id":"l50g3","s":"g","x":545,"y":415},{"id":"l50g3","s":"g","x":555,"y":418},{"id":"l50g3","s":"g","x":565,"y":410},{"id":"l50g3","s":"g","x":575,"y":412},{"id":"l50g3","s":"g","x":585,"y":408},{"id":"l50g3","s":"g","x":598,"y":410},

{"id":"l100g1","s":"g","x":345,"y":508},{"id":"l100g1","s":"g","x":355,"y":505},{"id":"l100g1","s":"g","x":365,"y":505},{"id":"l100g1","s":"g","x":375,"y":510},{"id":"l100g1","s":"g","x":385,"y":500},{"id":"l100g1","s":"g","x":395,"y":495},{"id":"l100g1","s":"g","x":405,"y":490},{"id":"l100g1","s":"g","x":415,"y":485},{"id":"l100g1","s":"g","x":425,"y":478},{"id":"l100g1","s":"g","x":432,"y":470},{"id":"l100g1","s":"g","x":440,"y":472},{"id":"l100g1","s":"g","x":450,"y":480},{"id":"l100g1","s":"g","x":460,"y":482},{"id":"l100g1","s":"g","x":470,"y":476},{"id":"l100g1","s":"g","x":480,"y":467},{"id":"l100g1","s":"g","x":488,"y":470},{"id":"l100g1","s":"g","x":495,"y":490},{"id":"l100g1","s":"g","x":505,"y":500},{"id":"l100g1","s":"g","x":515,"y":505},{"id":"l100g1","s":"g","x":525,"y":500},{"id":"l100g1","s":"g","x":535,"y":495},{"id":"l100g1","s":"g","x":545,"y":490},{"id":"l100g1","s":"g","x":555,"y":495},{"id":"l100g1","s":"g","x":565,"y":500},{"id":"l100g1","s":"g","x":575,"y":505},{"id":"l100g1","s":"g","x":585,"y":508},{"id":"l100g1","s":"g","x":598,"y":505},
{"id":"l100g2","s":"g","x":345,"y":512},{"id":"l100g2","s":"g","x":355,"y":515},{"id":"l100g2","s":"g","x":365,"y":512},{"id":"l100g2","s":"g","x":375,"y":515},{"id":"l100g2","s":"g","x":385,"y":510},{"id":"l100g2","s":"g","x":395,"y":505},{"id":"l100g2","s":"g","x":405,"y":500},{"id":"l100g2","s":"g","x":415,"y":495},{"id":"l100g2","s":"g","x":425,"y":488},{"id":"l100g2","s":"g","x":435,"y":485},{"id":"l100g2","s":"g","x":445,"y":490},{"id":"l100g2","s":"g","x":455,"y":495},{"id":"l100g2","s":"g","x":465,"y":490},{"id":"l100g2","s":"g","x":475,"y":485},{"id":"l100g2","s":"g","x":485,"y":490},{"id":"l100g2","s":"g","x":495,"y":505},{"id":"l100g2","s":"g","x":505,"y":515},{"id":"l100g2","s":"g","x":515,"y":520},{"id":"l100g2","s":"g","x":525,"y":515},{"id":"l100g2","s":"g","x":535,"y":520},{"id":"l100g2","s":"g","x":545,"y":522},{"id":"l100g2","s":"g","x":555,"y":525},{"id":"l100g2","s":"g","x":565,"y":530},{"id":"l100g2","s":"g","x":575,"y":528},{"id":"l100g2","s":"g","x":585,"y":525},{"id":"l100g2","s":"g","x":598,"y":522},

{"id":"l200g1","s":"g","x":345,"y":575},{"id":"l200g1","s":"g","x":355,"y":570},{"id":"l200g1","s":"g","x":365,"y":572},{"id":"l200g1","s":"g","x":375,"y":568},{"id":"l200g1","s":"g","x":385,"y":570},{"id":"l200g1","s":"g","x":395,"y":565},{"id":"l200g1","s":"g","x":405,"y":568},{"id":"l200g1","s":"g","x":415,"y":560},{"id":"l200g1","s":"g","x":425,"y":555},{"id":"l200g1","s":"g","x":435,"y":552},{"id":"l200g1","s":"g","x":445,"y":548},{"id":"l200g1","s":"g","x":455,"y":545},{"id":"l200g1","s":"g","x":465,"y":550},{"id":"l200g1","s":"g","x":475,"y":545},{"id":"l200g1","s":"g","x":485,"y":555},{"id":"l200g1","s":"g","x":495,"y":560},{"id":"l200g1","s":"g","x":505,"y":550},{"id":"l200g1","s":"g","x":515,"y":548},{"id":"l200g1","s":"g","x":525,"y":545},{"id":"l200g1","s":"g","x":535,"y":548},{"id":"l200g1","s":"g","x":545,"y":550},{"id":"l200g1","s":"g","x":555,"y":548},{"id":"l200g1","s":"g","x":565,"y":545},{"id":"l200g1","s":"g","x":575,"y":550},{"id":"l200g1","s":"g","x":585,"y":545},{"id":"l200g1","s":"g","x":598,"y":550},
{"id":"l200g2","s":"g","x":345,"y":585},{"id":"l200g2","s":"g","x":355,"y":588},{"id":"l200g2","s":"g","x":365,"y":583},{"id":"l200g2","s":"g","x":375,"y":585},{"id":"l200g2","s":"g","x":385,"y":580},{"id":"l200g2","s":"g","x":395,"y":583},{"id":"l200g2","s":"g","x":405,"y":580},{"id":"l200g2","s":"g","x":415,"y":578},{"id":"l200g2","s":"g","x":425,"y":575},{"id":"l200g2","s":"g","x":435,"y":572},{"id":"l200g2","s":"g","x":445,"y":575},{"id":"l200g2","s":"g","x":455,"y":570},{"id":"l200g2","s":"g","x":465,"y":565},{"id":"l200g2","s":"g","x":475,"y":570},{"id":"l200g2","s":"g","x":485,"y":575},{"id":"l200g2","s":"g","x":495,"y":578},{"id":"l200g2","s":"g","x":505,"y":572},{"id":"l200g2","s":"g","x":515,"y":565},{"id":"l200g2","s":"g","x":525,"y":560},{"id":"l200g2","s":"g","x":535,"y":563},{"id":"l200g2","s":"g","x":545,"y":565},{"id":"l200g2","s":"g","x":555,"y":568},{"id":"l200g2","s":"g","x":565,"y":565},{"id":"l200g2","s":"g","x":575,"y":562},{"id":"l200g2","s":"g","x":585,"y":565},{"id":"l200g2","s":"g","x":598,"y":568},

{"id":"l400g1","s":"g","x":345,"y":630},{"id":"l400g1","s":"g","x":355,"y":628},{"id":"l400g1","s":"g","x":365,"y":635},{"id":"l400g1","s":"g","x":375,"y":640},{"id":"l400g1","s":"g","x":385,"y":635},{"id":"l400g1","s":"g","x":395,"y":640},{"id":"l400g1","s":"g","x":405,"y":632},{"id":"l400g1","s":"g","x":415,"y":630},{"id":"l400g1","s":"g","x":425,"y":625},{"id":"l400g1","s":"g","x":435,"y":615},{"id":"l400g1","s":"g","x":445,"y":620},{"id":"l400g1","s":"g","x":455,"y":612},{"id":"l400g1","s":"g","x":465,"y":610},{"id":"l400g1","s":"g","x":470,"y":598},{"id":"l400g1","s":"g","x":475,"y":595},{"id":"l400g1","s":"g","x":480,"y":605},{"id":"l400g1","s":"g","x":490,"y":612},{"id":"l400g1","s":"g","x":500,"y":610},{"id":"l400g1","s":"g","x":510,"y":605},{"id":"l400g1","s":"g","x":520,"y":600},{"id":"l400g1","s":"g","x":530,"y":598},{"id":"l400g1","s":"g","x":540,"y":603},{"id":"l400g1","s":"g","x":550,"y":600},{"id":"l400g1","s":"g","x":560,"y":598},{"id":"l400g1","s":"g","x":570,"y":595},{"id":"l400g1","s":"g","x":580,"y":598},{"id":"l400g1","s":"g","x":590,"y":596},{"id":"l400g1","s":"g","x":598,"y":600},
{"id":"l400g2","s":"g","x":345,"y":650},{"id":"l400g2","s":"g","x":355,"y":655},{"id":"l400g2","s":"g","x":365,"y":660},{"id":"l400g2","s":"g","x":375,"y":662},{"id":"l400g2","s":"g","x":385,"y":657},{"id":"l400g2","s":"g","x":395,"y":660},{"id":"l400g2","s":"g","x":405,"y":650},{"id":"l400g2","s":"g","x":415,"y":645},{"id":"l400g2","s":"g","x":425,"y":638},{"id":"l400g2","s":"g","x":435,"y":640},{"id":"l400g2","s":"g","x":445,"y":643},{"id":"l400g2","s":"g","x":455,"y":648},{"id":"l400g2","s":"g","x":465,"y":645},{"id":"l400g2","s":"g","x":475,"y":650},{"id":"l400g2","s":"g","x":485,"y":648},{"id":"l400g2","s":"g","x":495,"y":645},{"id":"l400g2","s":"g","x":505,"y":640},{"id":"l400g2","s":"g","x":515,"y":635},{"id":"l400g2","s":"g","x":525,"y":630},{"id":"l400g2","s":"g","x":535,"y":625},{"id":"l400g2","s":"g","x":545,"y":620},{"id":"l400g2","s":"g","x":555,"y":625},{"id":"l400g2","s":"g","x":565,"y":630},{"id":"l400g2","s":"g","x":575,"y":645},{"id":"l400g2","s":"g","x":585,"y":660},{"id":"l400g2","s":"g","x":598,"y":680},

{"id":"lfg1","s":"g","x":345,"y":697},{"id":"lfg1","s":"g","x":355,"y":695},{"id":"lfg1","s":"g","x":365,"y":700},{"id":"lfg1","s":"g","x":375,"y":703},{"id":"lfg1","s":"g","x":385,"y":706},{"id":"lfg1","s":"g","x":395,"y":710},{"id":"lfg1","s":"g","x":405,"y":712},{"id":"lfg1","s":"g","x":415,"y":713},{"id":"lfg1","s":"g","x":425,"y":716},{"id":"lfg1","s":"g","x":435,"y":712},{"id":"lfg1","s":"g","x":445,"y":706},{"id":"lfg1","s":"g","x":455,"y":705},{"id":"lfg1","s":"g","x":465,"y":708},{"id":"lfg1","s":"g","x":475,"y":710},{"id":"lfg1","s":"g","x":485,"y":705},{"id":"lfg1","s":"g","x":495,"y":700},{"id":"lfg1","s":"g","x":505,"y":702},{"id":"lfg1","s":"g","x":515,"y":698},{"id":"lfg1","s":"g","x":525,"y":696},{"id":"lfg1","s":"g","x":535,"y":693},{"id":"lfg1","s":"g","x":545,"y":700},{"id":"lfg1","s":"g","x":555,"y":708},{"id":"lfg1","s":"g","x":565,"y":712},{"id":"lfg1","s":"g","x":575,"y":720},{"id":"lfg1","s":"g","x":585,"y":728},{"id":"lfg1","s":"g","x":598,"y":740},

{"id":"b1g1","s":"g","x":822,"y":122},{"id":"b1g1","s":"g","x":830,"y":120},{"id":"b1g1","s":"g","x":838,"y":125},{"id":"b1g1","s":"g","x":846,"y":127},{"id":"b1g1","s":"g","x":854,"y":120},{"id":"b1g1","s":"g","x":862,"y":112},{"id":"b1g1","s":"g","x":868,"y":108},{"id":"b1g1","s":"g","x":875,"y":112},{"id":"b1g1","s":"g","x":882,"y":115},{"id":"b1g1","s":"g","x":890,"y":118},{"id":"b1g1","s":"g","x":898,"y":125},{"id":"b1g1","s":"g","x":906,"y":128},{"id":"b1g1","s":"g","x":914,"y":124},{"id":"b1g1","s":"g","x":922,"y":128},{"id":"b1g1","s":"g","x":930,"y":130},{"id":"b1g1","s":"g","x":938,"y":127},{"id":"b1g1","s":"g","x":946,"y":132},{"id":"b1g1","s":"g","x":954,"y":130},{"id":"b1g1","s":"g","x":966,"y":133},
{"id":"b1g2","s":"g","x":822,"y":130},{"id":"b1g2","s":"g","x":830,"y":132},{"id":"b1g2","s":"g","x":838,"y":128},{"id":"b1g2","s":"g","x":846,"y":132},{"id":"b1g2","s":"g","x":854,"y":125},{"id":"b1g2","s":"g","x":862,"y":118},{"id":"b1g2","s":"g","x":870,"y":113},{"id":"b1g2","s":"g","x":878,"y":118},{"id":"b1g2","s":"g","x":886,"y":122},{"id":"b1g2","s":"g","x":894,"y":120},{"id":"b1g2","s":"g","x":902,"y":115},{"id":"b1g2","s":"g","x":910,"y":118},{"id":"b1g2","s":"g","x":918,"y":116},{"id":"b1g2","s":"g","x":926,"y":112},{"id":"b1g2","s":"g","x":934,"y":118},{"id":"b1g2","s":"g","x":942,"y":115},{"id":"b1g2","s":"g","x":950,"y":118},{"id":"b1g2","s":"g","x":958,"y":112},{"id":"b1g2","s":"g","x":966,"y":118},
{"id":"b2g1","s":"g","x":983,"y":128},{"id":"b2g1","s":"g","x":991,"y":135},{"id":"b2g1","s":"g","x":999,"y":130},{"id":"b2g1","s":"g","x":1007,"y":136},{"id":"b2g1","s":"g","x":1015,"y":125},{"id":"b2g1","s":"g","x":1023,"y":115},{"id":"b2g1","s":"g","x":1031,"y":110},{"id":"b2g1","s":"g","x":1039,"y":115},{"id":"b2g1","s":"g","x":1047,"y":125},{"id":"b2g1","s":"g","x":1055,"y":130},{"id":"b2g1","s":"g","x":1063,"y":124},{"id":"b2g1","s":"g","x":1071,"y":130},{"id":"b2g1","s":"g","x":1079,"y":122},{"id":"b2g1","s":"g","x":1087,"y":128},{"id":"b2g1","s":"g","x":1095,"y":132},{"id":"b2g1","s":"g","x":1103,"y":125},{"id":"b2g1","s":"g","x":1111,"y":130},{"id":"b2g1","s":"g","x":1119,"y":124},{"id":"b2g1","s":"g","x":1124,"y":126},
{"id":"b3g1","s":"g","x":822,"y":212},{"id":"b3g1","s":"g","x":828,"y":205},{"id":"b3g1","s":"g","x":834,"y":212},{"id":"b3g1","s":"g","x":840,"y":218},{"id":"b3g1","s":"g","x":846,"y":214},{"id":"b3g1","s":"g","x":850,"y":205},{"id":"b3g1","s":"g","x":856,"y":188},{"id":"b3g1","s":"g","x":862,"y":176},{"id":"b3g1","s":"g","x":867,"y":170},{"id":"b3g1","s":"g","x":872,"y":175},{"id":"b3g1","s":"g","x":880,"y":185},{"id":"b3g1","s":"g","x":888,"y":198},{"id":"b3g1","s":"g","x":896,"y":212},{"id":"b3g1","s":"g","x":904,"y":222},{"id":"b3g1","s":"g","x":912,"y":215},{"id":"b3g1","s":"g","x":920,"y":222},{"id":"b3g1","s":"g","x":928,"y":210},{"id":"b3g1","s":"g","x":936,"y":225},{"id":"b3g1","s":"g","x":944,"y":215},{"id":"b3g1","s":"g","x":952,"y":222},{"id":"b3g1","s":"g","x":958,"y":205},{"id":"b3g1","s":"g","x":966,"y":200},
{"id":"b3g2","s":"g","x":822,"y":238},{"id":"b3g2","s":"g","x":828,"y":230},{"id":"b3g2","s":"g","x":834,"y":222},{"id":"b3g2","s":"g","x":840,"y":235},{"id":"b3g2","s":"g","x":846,"y":225},{"id":"b3g2","s":"g","x":850,"y":215},{"id":"b3g2","s":"g","x":856,"y":190},{"id":"b3g2","s":"g","x":862,"y":178},{"id":"b3g2","s":"g","x":867,"y":172},{"id":"b3g2","s":"g","x":872,"y":176},{"id":"b3g2","s":"g","x":880,"y":190},{"id":"b3g2","s":"g","x":888,"y":205},{"id":"b3g2","s":"g","x":896,"y":218},{"id":"b3g2","s":"g","x":904,"y":232},{"id":"b3g2","s":"g","x":912,"y":240},{"id":"b3g2","s":"g","x":920,"y":235},{"id":"b3g2","s":"g","x":928,"y":242},{"id":"b3g2","s":"g","x":936,"y":238},{"id":"b3g2","s":"g","x":944,"y":245},{"id":"b3g2","s":"g","x":952,"y":240},{"id":"b3g2","s":"g","x":958,"y":235},{"id":"b3g2","s":"g","x":966,"y":243},
{"id":"b3g3","s":"g","x":822,"y":225},{"id":"b3g3","s":"g","x":828,"y":222},{"id":"b3g3","s":"g","x":834,"y":230},{"id":"b3g3","s":"g","x":840,"y":225},{"id":"b3g3","s":"g","x":846,"y":232},{"id":"b3g3","s":"g","x":852,"y":215},{"id":"b3g3","s":"g","x":858,"y":195},{"id":"b3g3","s":"g","x":864,"y":178},{"id":"b3g3","s":"g","x":870,"y":174},{"id":"b3g3","s":"g","x":878,"y":185},{"id":"b3g3","s":"g","x":886,"y":198},{"id":"b3g3","s":"g","x":894,"y":210},{"id":"b3g3","s":"g","x":902,"y":222},{"id":"b3g3","s":"g","x":910,"y":226},{"id":"b3g3","s":"g","x":918,"y":220},{"id":"b3g3","s":"g","x":926,"y":225},{"id":"b3g3","s":"g","x":934,"y":220},{"id":"b3g3","s":"g","x":942,"y":228},{"id":"b3g3","s":"g","x":950,"y":232},{"id":"b3g3","s":"g","x":958,"y":218},{"id":"b3g3","s":"g","x":966,"y":225},
{"id":"b4g1","s":"g","x":983,"y":200},{"id":"b4g1","s":"g","x":988,"y":212},{"id":"b4g1","s":"g","x":992,"y":205},{"id":"b4g1","s":"g","x":996,"y":225},{"id":"b4g1","s":"g","x":1000,"y":210},{"id":"b4g1","s":"g","x":1006,"y":215},{"id":"b4g1","s":"g","x":1012,"y":218},{"id":"b4g1","s":"g","x":1016,"y":200},{"id":"b4g1","s":"g","x":1020,"y":180},{"id":"b4g1","s":"g","x":1024,"y":162},{"id":"b4g1","s":"g","x":1028,"y":158},{"id":"b4g1","s":"g","x":1034,"y":168},{"id":"b4g1","s":"g","x":1040,"y":175},{"id":"b4g1","s":"g","x":1046,"y":180},{"id":"b4g1","s":"g","x":1052,"y":188},{"id":"b4g1","s":"g","x":1058,"y":192},{"id":"b4g1","s":"g","x":1064,"y":198},{"id":"b4g1","s":"g","x":1072,"y":200},{"id":"b4g1","s":"g","x":1080,"y":205},{"id":"b4g1","s":"g","x":1088,"y":200},{"id":"b4g1","s":"g","x":1096,"y":205},{"id":"b4g1","s":"g","x":1104,"y":212},{"id":"b4g1","s":"g","x":1112,"y":215},{"id":"b4g1","s":"g","x":1118,"y":210},{"id":"b4g1","s":"g","x":1124,"y":222},
{"id":"b4g2","s":"g","x":983,"y":230},{"id":"b4g2","s":"g","x":988,"y":225},{"id":"b4g2","s":"g","x":994,"y":218},{"id":"b4g2","s":"g","x":1000,"y":212},{"id":"b4g2","s":"g","x":1006,"y":222},{"id":"b4g2","s":"g","x":1012,"y":225},{"id":"b4g2","s":"g","x":1016,"y":205},{"id":"b4g2","s":"g","x":1020,"y":188},{"id":"b4g2","s":"g","x":1025,"y":168},{"id":"b4g2","s":"g","x":1030,"y":163},{"id":"b4g2","s":"g","x":1036,"y":176},{"id":"b4g2","s":"g","x":1042,"y":186},{"id":"b4g2","s":"g","x":1048,"y":183},{"id":"b4g2","s":"g","x":1054,"y":195},{"id":"b4g2","s":"g","x":1062,"y":198},{"id":"b4g2","s":"g","x":1070,"y":205},{"id":"b4g2","s":"g","x":1078,"y":210},{"id":"b4g2","s":"g","x":1086,"y":212},{"id":"b4g2","s":"g","x":1094,"y":215},{"id":"b4g2","s":"g","x":1102,"y":210},{"id":"b4g2","s":"g","x":1110,"y":218},{"id":"b4g2","s":"g","x":1118,"y":222},{"id":"b4g2","s":"g","x":1124,"y":218},

{"id":"l12d","s":"d","x":345,"y":237},{"id":"l12d","s":"d","x":349,"y":242},{"id":"l12d","s":"d","x":353,"y":243},{"id":"l12d","s":"d","x":357,"y":240},{"id":"l12d","s":"d","x":363,"y":239},{"id":"l12d","s":"d","x":369,"y":242},{"id":"l12d","s":"d","x":375,"y":240},{"id":"l12d","s":"d","x":381,"y":243},{"id":"l12d","s":"d","x":387,"y":246},{"id":"l12d","s":"d","x":393,"y":250},{"id":"l12d","s":"d","x":399,"y":251},{"id":"l12d","s":"d","x":405,"y":250},{"id":"l12d","s":"d","x":411,"y":251},{"id":"l12d","s":"d","x":417,"y":248},{"id":"l12d","s":"d","x":423,"y":246},{"id":"l12d","s":"d","x":429,"y":245},{"id":"l12d","s":"d","x":435,"y":242},{"id":"l12d","s":"d","x":441,"y":243},{"id":"l12d","s":"d","x":447,"y":240},{"id":"l12d","s":"d","x":453,"y":238},{"id":"l12d","s":"d","x":459,"y":236},{"id":"l12d","s":"d","x":465,"y":234},{"id":"l12d","s":"d","x":471,"y":235},{"id":"l12d","s":"d","x":477,"y":237},{"id":"l12d","s":"d","x":483,"y":242},{"id":"l12d","s":"d","x":489,"y":247},{"id":"l12d","s":"d","x":495,"y":252},{"id":"l12d","s":"d","x":501,"y":258},{"id":"l12d","s":"d","x":507,"y":262},{"id":"l12d","s":"d","x":513,"y":266},{"id":"l12d","s":"d","x":519,"y":268},{"id":"l12d","s":"d","x":525,"y":266},{"id":"l12d","s":"d","x":531,"y":264},{"id":"l12d","s":"d","x":537,"y":266},{"id":"l12d","s":"d","x":543,"y":262},{"id":"l12d","s":"d","x":549,"y":261},{"id":"l12d","s":"d","x":555,"y":259},{"id":"l12d","s":"d","x":561,"y":256},{"id":"l12d","s":"d","x":567,"y":250},{"id":"l12d","s":"d","x":573,"y":243},{"id":"l12d","s":"d","x":579,"y":238},{"id":"l12d","s":"d","x":585,"y":232},{"id":"l12d","s":"d","x":591,"y":227},{"id":"l12d","s":"d","x":597,"y":225},{"id":"l12d","s":"d","x":605,"y":222},
{"id":"l25d","s":"d","x":345,"y":330},{"id":"l25d","s":"d","x":350,"y":327},{"id":"l25d","s":"d","x":355,"y":325},{"id":"l25d","s":"d","x":360,"y":330},{"id":"l25d","s":"d","x":365,"y":328},{"id":"l25d","s":"d","x":370,"y":332},{"id":"l25d","s":"d","x":375,"y":330},{"id":"l25d","s":"d","x":380,"y":338},{"id":"l25d","s":"d","x":385,"y":345},{"id":"l25d","s":"d","x":390,"y":352},{"id":"l25d","s":"d","x":395,"y":355},{"id":"l25d","s":"d","x":400,"y":348},{"id":"l25d","s":"d","x":405,"y":340},{"id":"l25d","s":"d","x":410,"y":336},{"id":"l25d","s":"d","x":415,"y":333},{"id":"l25d","s":"d","x":420,"y":330},{"id":"l25d","s":"d","x":425,"y":325},{"id":"l25d","s":"d","x":430,"y":322},{"id":"l25d","s":"d","x":435,"y":318},{"id":"l25d","s":"d","x":440,"y":315},{"id":"l25d","s":"d","x":445,"y":313},{"id":"l25d","s":"d","x":450,"y":316},{"id":"l25d","s":"d","x":455,"y":313},{"id":"l25d","s":"d","x":460,"y":309},{"id":"l25d","s":"d","x":465,"y":308},{"id":"l25d","s":"d","x":470,"y":310},{"id":"l25d","s":"d","x":475,"y":314},{"id":"l25d","s":"d","x":480,"y":316},{"id":"l25d","s":"d","x":485,"y":318},{"id":"l25d","s":"d","x":490,"y":320},{"id":"l25d","s":"d","x":495,"y":323},{"id":"l25d","s":"d","x":500,"y":326},{"id":"l25d","s":"d","x":505,"y":328},{"id":"l25d","s":"d","x":510,"y":330},{"id":"l25d","s":"d","x":515,"y":332},{"id":"l25d","s":"d","x":520,"y":334},{"id":"l25d","s":"d","x":525,"y":337},{"id":"l25d","s":"d","x":530,"y":340},{"id":"l25d","s":"d","x":535,"y":342},{"id":"l25d","s":"d","x":540,"y":344},{"id":"l25d","s":"d","x":545,"y":343},{"id":"l25d","s":"d","x":550,"y":340},{"id":"l25d","s":"d","x":555,"y":335},{"id":"l25d","s":"d","x":560,"y":330},{"id":"l25d","s":"d","x":565,"y":325},{"id":"l25d","s":"d","x":570,"y":322},{"id":"l25d","s":"d","x":575,"y":322},{"id":"l25d","s":"d","x":580,"y":323},{"id":"l25d","s":"d","x":585,"y":321},{"id":"l25d","s":"d","x":590,"y":325},{"id":"l25d","s":"d","x":595,"y":330},{"id":"l25d","s":"d","x":600,"y":335},
{"id":"l50d","s":"d","x":345,"y":410},{"id":"l50d","s":"d","x":350,"y":411},{"id":"l50d","s":"d","x":355,"y":413},{"id":"l50d","s":"d","x":360,"y":415},{"id":"l50d","s":"d","x":365,"y":418},{"id":"l50d","s":"d","x":370,"y":420},{"id":"l50d","s":"d","x":375,"y":422},{"id":"l50d","s":"d","x":380,"y":424},{"id":"l50d","s":"d","x":385,"y":426},{"id":"l50d","s":"d","x":390,"y":425},{"id":"l50d","s":"d","x":395,"y":423},{"id":"l50d","s":"d","x":400,"y":424},{"id":"l50d","s":"d","x":405,"y":422},{"id":"l50d","s":"d","x":410,"y":420},{"id":"l50d","s":"d","x":415,"y":419},{"id":"l50d","s":"d","x":420,"y":420},{"id":"l50d","s":"d","x":425,"y":415},{"id":"l50d","s":"d","x":430,"y":407},{"id":"l50d","s":"d","x":435,"y":400},{"id":"l50d","s":"d","x":440,"y":396},{"id":"l50d","s":"d","x":445,"y":394},{"id":"l50d","s":"d","x":450,"y":392},{"id":"l50d","s":"d","x":455,"y":393},{"id":"l50d","s":"d","x":460,"y":392},{"id":"l50d","s":"d","x":465,"y":394},{"id":"l50d","s":"d","x":470,"y":396},{"id":"l50d","s":"d","x":475,"y":393},{"id":"l50d","s":"d","x":480,"y":390},{"id":"l50d","s":"d","x":485,"y":387},{"id":"l50d","s":"d","x":490,"y":390},{"id":"l50d","s":"d","x":495,"y":393},{"id":"l50d","s":"d","x":500,"y":397},{"id":"l50d","s":"d","x":505,"y":395},{"id":"l50d","s":"d","x":510,"y":392},{"id":"l50d","s":"d","x":515,"y":390},{"id":"l50d","s":"d","x":520,"y":388},{"id":"l50d","s":"d","x":525,"y":387},{"id":"l50d","s":"d","x":530,"y":390},{"id":"l50d","s":"d","x":535,"y":392},{"id":"l50d","s":"d","x":540,"y":393},{"id":"l50d","s":"d","x":545,"y":390},{"id":"l50d","s":"d","x":550,"y":387},{"id":"l50d","s":"d","x":555,"y":389},{"id":"l50d","s":"d","x":560,"y":393},{"id":"l50d","s":"d","x":565,"y":395},{"id":"l50d","s":"d","x":570,"y":392},{"id":"l50d","s":"d","x":575,"y":390},{"id":"l50d","s":"d","x":580,"y":394},{"id":"l50d","s":"d","x":585,"y":396},{"id":"l50d","s":"d","x":590,"y":395},{"id":"l50d","s":"d","x":595,"y":396},{"id":"l50d","s":"d","x":598,"y":397},
{"id":"l100d","s":"d","x":345,"y":505},{"id":"l100d","s":"d","x":350,"y":506},{"id":"l100d","s":"d","x":355,"y":508},{"id":"l100d","s":"d","x":360,"y":507},{"id":"l100d","s":"d","x":365,"y":509},{"id":"l100d","s":"d","x":370,"y":510},{"id":"l100d","s":"d","x":375,"y":511},{"id":"l100d","s":"d","x":380,"y":510},{"id":"l100d","s":"d","x":385,"y":512},{"id":"l100d","s":"d","x":390,"y":513},{"id":"l100d","s":"d","x":395,"y":514},{"id":"l100d","s":"d","x":400,"y":515},{"id":"l100d","s":"d","x":405,"y":513},{"id":"l100d","s":"d","x":410,"y":510},{"id":"l100d","s":"d","x":415,"y":508},{"id":"l100d","s":"d","x":420,"y":505},{"id":"l100d","s":"d","x":425,"y":503},{"id":"l100d","s":"d","x":430,"y":500},{"id":"l100d","s":"d","x":435,"y":498},{"id":"l100d","s":"d","x":440,"y":497},{"id":"l100d","s":"d","x":445,"y":496},{"id":"l100d","s":"d","x":450,"y":493},{"id":"l100d","s":"d","x":455,"y":491},{"id":"l100d","s":"d","x":460,"y":492},{"id":"l100d","s":"d","x":465,"y":493},{"id":"l100d","s":"d","x":470,"y":490},{"id":"l100d","s":"d","x":475,"y":488},{"id":"l100d","s":"d","x":480,"y":487},{"id":"l100d","s":"d","x":485,"y":489},{"id":"l100d","s":"d","x":490,"y":493},{"id":"l100d","s":"d","x":495,"y":498},{"id":"l100d","s":"d","x":500,"y":501},{"id":"l100d","s":"d","x":505,"y":503},{"id":"l100d","s":"d","x":510,"y":504},{"id":"l100d","s":"d","x":515,"y":505},{"id":"l100d","s":"d","x":520,"y":505},{"id":"l100d","s":"d","x":525,"y":506},{"id":"l100d","s":"d","x":530,"y":505},{"id":"l100d","s":"d","x":535,"y":505},{"id":"l100d","s":"d","x":540,"y":506},{"id":"l100d","s":"d","x":545,"y":505},{"id":"l100d","s":"d","x":550,"y":503},{"id":"l100d","s":"d","x":555,"y":501},{"id":"l100d","s":"d","x":560,"y":498},{"id":"l100d","s":"d","x":565,"y":495},{"id":"l100d","s":"d","x":570,"y":495},{"id":"l100d","s":"d","x":575,"y":496},{"id":"l100d","s":"d","x":580,"y":497},{"id":"l100d","s":"d","x":585,"y":497},{"id":"l100d","s":"d","x":590,"y":498},{"id":"l100d","s":"d","x":595,"y":499},{"id":"l100d","s":"d","x":600,"y":501},
{"id":"l200d","s":"d","x":345,"y":583},{"id":"l200d","s":"d","x":350,"y":582},{"id":"l200d","s":"d","x":355,"y":580},{"id":"l200d","s":"d","x":360,"y":581},{"id":"l200d","s":"d","x":365,"y":579},{"id":"l200d","s":"d","x":370,"y":578},{"id":"l200d","s":"d","x":375,"y":578},{"id":"l200d","s":"d","x":380,"y":577},{"id":"l200d","s":"d","x":385,"y":576},{"id":"l200d","s":"d","x":390,"y":575},{"id":"l200d","s":"d","x":395,"y":574},{"id":"l200d","s":"d","x":400,"y":573},{"id":"l200d","s":"d","x":405,"y":571},{"id":"l200d","s":"d","x":410,"y":570},{"id":"l200d","s":"d","x":415,"y":568},{"id":"l200d","s":"d","x":420,"y":566},{"id":"l200d","s":"d","x":425,"y":563},{"id":"l200d","s":"d","x":430,"y":562},{"id":"l200d","s":"d","x":435,"y":560},{"id":"l200d","s":"d","x":440,"y":556},{"id":"l200d","s":"d","x":445,"y":550},{"id":"l200d","s":"d","x":450,"y":546},{"id":"l200d","s":"d","x":455,"y":545},{"id":"l200d","s":"d","x":460,"y":546},{"id":"l200d","s":"d","x":465,"y":548},{"id":"l200d","s":"d","x":470,"y":550},{"id":"l200d","s":"d","x":475,"y":549},{"id":"l200d","s":"d","x":480,"y":547},{"id":"l200d","s":"d","x":485,"y":548},{"id":"l200d","s":"d","x":490,"y":546},{"id":"l200d","s":"d","x":495,"y":545},{"id":"l200d","s":"d","x":500,"y":547},{"id":"l200d","s":"d","x":505,"y":550},{"id":"l200d","s":"d","x":510,"y":553},{"id":"l200d","s":"d","x":515,"y":558},{"id":"l200d","s":"d","x":520,"y":564},{"id":"l200d","s":"d","x":525,"y":568},{"id":"l200d","s":"d","x":530,"y":571},{"id":"l200d","s":"d","x":535,"y":574},{"id":"l200d","s":"d","x":540,"y":577},{"id":"l200d","s":"d","x":545,"y":579},{"id":"l200d","s":"d","x":550,"y":581},{"id":"l200d","s":"d","x":555,"y":579},{"id":"l200d","s":"d","x":560,"y":578},{"id":"l200d","s":"d","x":565,"y":577},{"id":"l200d","s":"d","x":570,"y":576},{"id":"l200d","s":"d","x":575,"y":578},{"id":"l200d","s":"d","x":580,"y":577},{"id":"l200d","s":"d","x":585,"y":576},{"id":"l200d","s":"d","x":590,"y":577},{"id":"l200d","s":"d","x":595,"y":576},{"id":"l200d","s":"d","x":598,"y":577},
{"id":"b1d","s":"d","x":822,"y":127},{"id":"b1d","s":"d","x":830,"y":126},{"id":"b1d","s":"d","x":838,"y":126},{"id":"b1d","s":"d","x":846,"y":124},{"id":"b1d","s":"d","x":854,"y":121},{"id":"b1d","s":"d","x":862,"y":117},{"id":"b1d","s":"d","x":870,"y":115},{"id":"b1d","s":"d","x":878,"y":116},{"id":"b1d","s":"d","x":886,"y":117},{"id":"b1d","s":"d","x":894,"y":118},{"id":"b1d","s":"d","x":902,"y":118},{"id":"b1d","s":"d","x":910,"y":119},{"id":"b1d","s":"d","x":918,"y":120},{"id":"b1d","s":"d","x":926,"y":120},{"id":"b1d","s":"d","x":934,"y":121},{"id":"b1d","s":"d","x":942,"y":121},{"id":"b1d","s":"d","x":950,"y":122},{"id":"b1d","s":"d","x":958,"y":122},{"id":"b1d","s":"d","x":966,"y":123},
{"id":"b2d","s":"d","x":983,"y":127},{"id":"b2d","s":"d","x":991,"y":129},{"id":"b2d","s":"d","x":999,"y":131},{"id":"b2d","s":"d","x":1007,"y":132},{"id":"b2d","s":"d","x":1015,"y":128},{"id":"b2d","s":"d","x":1023,"y":121},{"id":"b2d","s":"d","x":1031,"y":116},{"id":"b2d","s":"d","x":1039,"y":118},{"id":"b2d","s":"d","x":1047,"y":123},{"id":"b2d","s":"d","x":1055,"y":126},{"id":"b2d","s":"d","x":1063,"y":127},{"id":"b2d","s":"d","x":1071,"y":127},{"id":"b2d","s":"d","x":1079,"y":127},{"id":"b2d","s":"d","x":1087,"y":127},{"id":"b2d","s":"d","x":1095,"y":127},{"id":"b2d","s":"d","x":1103,"y":127},{"id":"b2d","s":"d","x":1111,"y":127},{"id":"b2d","s":"d","x":1119,"y":127},{"id":"b2d","s":"d","x":1124,"y":127},

{"id":"r50k","s":"k","x":22,"y":436},{"id":"r50k","s":"k","x":26,"y":434},{"id":"r50k","s":"k","x":30,"y":437},{"id":"r50k","s":"k","x":34,"y":435},{"id":"r50k","s":"k","x":38,"y":438},{"id":"r50k","s":"k","x":42,"y":437},{"id":"r50k","s":"k","x":46,"y":439},{"id":"r50k","s":"k","x":50,"y":441},{"id":"r50k","s":"k","x":53,"y":437},{"id":"r50k","s":"k","x":57,"y":433},{"id":"r50k","s":"k","x":61,"y":435},{"id":"r50k","s":"k","x":64,"y":430},{"id":"r50k","s":"k","x":68,"y":432},{"id":"r50k","s":"k","x":72,"y":425},{"id":"r50k","s":"k","x":77,"y":418},{"id":"r50k","s":"k","x":81,"y":421},{"id":"r50k","s":"k","x":85,"y":424},{"id":"r50k","s":"k","x":89,"y":428},{"id":"r50k","s":"k","x":93,"y":433},{"id":"r50k","s":"k","x":97,"y":437},{"id":"r50k","s":"k","x":100,"y":436},{"id":"r50k","s":"k","x":104,"y":431},{"id":"r50k","s":"k","x":108,"y":429},{"id":"r50k","s":"k","x":112,"y":432},{"id":"r50k","s":"k","x":117,"y":428},{"id":"r50k","s":"k","x":121,"y":431},{"id":"r50k","s":"k","x":125,"y":432},{"id":"r50k","s":"k","x":129,"y":427},{"id":"r50k","s":"k","x":133,"y":430},{"id":"r50k","s":"k","x":137,"y":433},{"id":"r50k","s":"k","x":140,"y":436},{"id":"r50k","s":"k","x":144,"y":432},{"id":"r50k","s":"k","x":148,"y":430},{"id":"r50k","s":"k","x":152,"y":427},{"id":"r50k","s":"k","x":156,"y":425},{"id":"r50k","s":"k","x":160,"y":423},{"id":"r50k","s":"k","x":163,"y":422},{"id":"r50k","s":"k","x":167,"y":424},{"id":"r50k","s":"k","x":171,"y":425},{"id":"r50k","s":"k","x":175,"y":424},{"id":"r50k","s":"k","x":180,"y":425},{"id":"r50k","s":"k","x":184,"y":419},{"id":"r50k","s":"k","x":188,"y":416},{"id":"r50k","s":"k","x":193,"y":413},{"id":"r50k","s":"k","x":197,"y":416},{"id":"r50k","s":"k","x":201,"y":414},{"id":"r50k","s":"k","x":205,"y":415},{"id":"r50k","s":"k","x":209,"y":413},{"id":"r50k","s":"k","x":213,"y":416},{"id":"r50k","s":"k","x":217,"y":415},{"id":"r50k","s":"k","x":221,"y":418},{"id":"r50k","s":"k","x":225,"y":420},{"id":"r50k","s":"k","x":229,"y":424},{"id":"r50k","s":"k","x":232,"y":423},{"id":"r50k","s":"k","x":236,"y":416},{"id":"r50k","s":"k","x":240,"y":412},{"id":"r50k","s":"k","x":244,"y":407},{"id":"r50k","s":"k","x":248,"y":404},{"id":"r50k","s":"k","x":252,"y":405},{"id":"r50k","s":"k","x":256,"y":407},{"id":"r50k","s":"k","x":260,"y":410},{"id":"r50k","s":"k","x":264,"y":413},{"id":"r50k","s":"k","x":267,"y":411},{"id":"r50k","s":"k","x":271,"y":413},{"id":"r50k","s":"k","x":275,"y":415},{"id":"r50k","s":"k","x":277,"y":413},
{"id":"r100k","s":"k","x":22,"y":555},{"id":"r100k","s":"k","x":27,"y":552},{"id":"r100k","s":"k","x":32,"y":547},{"id":"r100k","s":"k","x":36,"y":545},{"id":"r100k","s":"k","x":40,"y":543},{"id":"r100k","s":"k","x":44,"y":547},{"id":"r100k","s":"k","x":48,"y":552},{"id":"r100k","s":"k","x":53,"y":553},{"id":"r100k","s":"k","x":58,"y":552},{"id":"r100k","s":"k","x":63,"y":553},{"id":"r100k","s":"k","x":68,"y":551},{"id":"r100k","s":"k","x":73,"y":553},{"id":"r100k","s":"k","x":78,"y":550},{"id":"r100k","s":"k","x":83,"y":549},{"id":"r100k","s":"k","x":88,"y":548},{"id":"r100k","s":"k","x":93,"y":547},{"id":"r100k","s":"k","x":98,"y":551},{"id":"r100k","s":"k","x":103,"y":553},{"id":"r100k","s":"k","x":108,"y":552},{"id":"r100k","s":"k","x":113,"y":552},{"id":"r100k","s":"k","x":118,"y":549},{"id":"r100k","s":"k","x":123,"y":548},{"id":"r100k","s":"k","x":127,"y":547},{"id":"r100k","s":"k","x":131,"y":549},{"id":"r100k","s":"k","x":135,"y":547},{"id":"r100k","s":"k","x":139,"y":546},{"id":"r100k","s":"k","x":143,"y":547},{"id":"r100k","s":"k","x":147,"y":549},{"id":"r100k","s":"k","x":151,"y":551},{"id":"r100k","s":"k","x":155,"y":555},{"id":"r100k","s":"k","x":159,"y":561},{"id":"r100k","s":"k","x":163,"y":565},{"id":"r100k","s":"k","x":167,"y":563},{"id":"r100k","s":"k","x":171,"y":566},{"id":"r100k","s":"k","x":175,"y":563},{"id":"r100k","s":"k","x":179,"y":565},{"id":"r100k","s":"k","x":183,"y":562},{"id":"r100k","s":"k","x":187,"y":564},{"id":"r100k","s":"k","x":191,"y":566},{"id":"r100k","s":"k","x":195,"y":563},{"id":"r100k","s":"k","x":200,"y":565},{"id":"r100k","s":"k","x":205,"y":562},{"id":"r100k","s":"k","x":210,"y":564},{"id":"r100k","s":"k","x":215,"y":561},{"id":"r100k","s":"k","x":220,"y":563},{"id":"r100k","s":"k","x":225,"y":565},{"id":"r100k","s":"k","x":230,"y":562},{"id":"r100k","s":"k","x":235,"y":563},{"id":"r100k","s":"k","x":240,"y":560},{"id":"r100k","s":"k","x":245,"y":563},{"id":"r100k","s":"k","x":250,"y":562},{"id":"r100k","s":"k","x":255,"y":565},{"id":"r100k","s":"k","x":260,"y":566},{"id":"r100k","s":"k","x":264,"y":570},{"id":"r100k","s":"k","x":267,"y":577},{"id":"r100k","s":"k","x":270,"y":574},{"id":"r100k","s":"k","x":273,"y":569},{"id":"r100k","s":"k","x":277,"y":566},
{"id":"r400k","s":"k","x":22,"y":628},{"id":"r400k","s":"k","x":26,"y":625},{"id":"r400k","s":"k","x":30,"y":623},{"id":"r400k","s":"k","x":34,"y":626},{"id":"r400k","s":"k","x":38,"y":628},{"id":"r400k","s":"k","x":42,"y":630},{"id":"r400k","s":"k","x":46,"y":629},{"id":"r400k","s":"k","x":50,"y":632},{"id":"r400k","s":"k","x":54,"y":635},{"id":"r400k","s":"k","x":58,"y":633},{"id":"r400k","s":"k","x":62,"y":636},{"id":"r400k","s":"k","x":67,"y":637},{"id":"r400k","s":"k","x":71,"y":635},{"id":"r400k","s":"k","x":75,"y":633},{"id":"r400k","s":"k","x":79,"y":634},{"id":"r400k","s":"k","x":83,"y":631},{"id":"r400k","s":"k","x":87,"y":632},{"id":"r400k","s":"k","x":91,"y":630},{"id":"r400k","s":"k","x":95,"y":628},{"id":"r400k","s":"k","x":99,"y":630},{"id":"r400k","s":"k","x":103,"y":633},{"id":"r400k","s":"k","x":107,"y":635},{"id":"r400k","s":"k","x":111,"y":636},{"id":"r400k","s":"k","x":115,"y":638},{"id":"r400k","s":"k","x":119,"y":640},{"id":"r400k","s":"k","x":123,"y":643},{"id":"r400k","s":"k","x":127,"y":644},{"id":"r400k","s":"k","x":130,"y":645},{"id":"r400k","s":"k","x":134,"y":642},{"id":"r400k","s":"k","x":138,"y":644},{"id":"r400k","s":"k","x":142,"y":641},{"id":"r400k","s":"k","x":146,"y":640},{"id":"r400k","s":"k","x":150,"y":642},{"id":"r400k","s":"k","x":154,"y":640},{"id":"r400k","s":"k","x":158,"y":643},{"id":"r400k","s":"k","x":162,"y":641},{"id":"r400k","s":"k","x":166,"y":640},{"id":"r400k","s":"k","x":170,"y":643},{"id":"r400k","s":"k","x":174,"y":642},{"id":"r400k","s":"k","x":178,"y":645},{"id":"r400k","s":"k","x":182,"y":643},{"id":"r400k","s":"k","x":186,"y":640},{"id":"r400k","s":"k","x":190,"y":642},{"id":"r400k","s":"k","x":194,"y":638},{"id":"r400k","s":"k","x":198,"y":636},{"id":"r400k","s":"k","x":202,"y":635},{"id":"r400k","s":"k","x":206,"y":638},{"id":"r400k","s":"k","x":210,"y":635},{"id":"r400k","s":"k","x":214,"y":638},{"id":"r400k","s":"k","x":218,"y":640},{"id":"r400k","s":"k","x":222,"y":636},{"id":"r400k","s":"k","x":226,"y":638},{"id":"r400k","s":"k","x":230,"y":640},{"id":"r400k","s":"k","x":234,"y":637},{"id":"r400k","s":"k","x":238,"y":640},{"id":"r400k","s":"k","x":242,"y":643},{"id":"r400k","s":"k","x":247,"y":643},{"id":"r400k","s":"k","x":251,"y":638},{"id":"r400k","s":"k","x":255,"y":640},{"id":"r400k","s":"k","x":259,"y":637},{"id":"r400k","s":"k","x":263,"y":639},{"id":"r400k","s":"k","x":267,"y":638},{"id":"r400k","s":"k","x":271,"y":636},{"id":"r400k","s":"k","x":275,"y":637},{"id":"r400k","s":"k","x":277,"y":636},
{"id":"rfk","s":"k","x":18,"y":718},{"id":"rfk","s":"k","x":21,"y":710},{"id":"rfk","s":"k","x":25,"y":706},{"id":"rfk","s":"k","x":30,"y":703},{"id":"rfk","s":"k","x":34,"y":702},{"id":"rfk","s":"k","x":38,"y":700},{"id":"rfk","s":"k","x":42,"y":699},{"id":"rfk","s":"k","x":46,"y":697},{"id":"rfk","s":"k","x":50,"y":697},{"id":"rfk","s":"k","x":54,"y":698},{"id":"rfk","s":"k","x":58,"y":700},{"id":"rfk","s":"k","x":62,"y":702},{"id":"rfk","s":"k","x":67,"y":703},{"id":"rfk","s":"k","x":71,"y":706},{"id":"rfk","s":"k","x":75,"y":708},{"id":"rfk","s":"k","x":79,"y":711},{"id":"rfk","s":"k","x":83,"y":713},{"id":"rfk","s":"k","x":87,"y":709},{"id":"rfk","s":"k","x":91,"y":711},{"id":"rfk","s":"k","x":95,"y":708},{"id":"rfk","s":"k","x":99,"y":710},{"id":"rfk","s":"k","x":103,"y":707},{"id":"rfk","s":"k","x":107,"y":706},{"id":"rfk","s":"k","x":111,"y":705},{"id":"rfk","s":"k","x":115,"y":704},{"id":"rfk","s":"k","x":119,"y":703},{"id":"rfk","s":"k","x":123,"y":705},{"id":"rfk","s":"k","x":127,"y":704},{"id":"rfk","s":"k","x":131,"y":707},{"id":"rfk","s":"k","x":135,"y":710},{"id":"rfk","s":"k","x":139,"y":713},{"id":"rfk","s":"k","x":143,"y":716},{"id":"rfk","s":"k","x":148,"y":720},{"id":"rfk","s":"k","x":152,"y":722},{"id":"rfk","s":"k","x":156,"y":717},{"id":"rfk","s":"k","x":160,"y":714},{"id":"rfk","s":"k","x":164,"y":710},{"id":"rfk","s":"k","x":168,"y":706},{"id":"rfk","s":"k","x":172,"y":703},{"id":"rfk","s":"k","x":176,"y":701},{"id":"rfk","s":"k","x":180,"y":700},{"id":"rfk","s":"k","x":184,"y":704},{"id":"rfk","s":"k","x":188,"y":708},{"id":"rfk","s":"k","x":192,"y":713},{"id":"rfk","s":"k","x":196,"y":717},{"id":"rfk","s":"k","x":200,"y":720},{"id":"rfk","s":"k","x":204,"y":723},{"id":"rfk","s":"k","x":208,"y":722},{"id":"rfk","s":"k","x":212,"y":723},{"id":"rfk","s":"k","x":216,"y":718},{"id":"rfk","s":"k","x":220,"y":715},{"id":"rfk","s":"k","x":224,"y":712},{"id":"rfk","s":"k","x":228,"y":713},{"id":"rfk","s":"k","x":232,"y":716},{"id":"rfk","s":"k","x":236,"y":717},{"id":"rfk","s":"k","x":240,"y":720},{"id":"rfk","s":"k","x":244,"y":718},{"id":"rfk","s":"k","x":248,"y":722},{"id":"rfk","s":"k","x":252,"y":726},{"id":"rfk","s":"k","x":256,"y":727},{"id":"rfk","s":"k","x":260,"y":725},{"id":"rfk","s":"k","x":264,"y":723},{"id":"rfk","s":"k","x":268,"y":722},{"id":"rfk","s":"k","x":272,"y":723},{"id":"rfk","s":"k","x":276,"y":722},
{"id":"l6k","s":"k","x":345,"y":183},{"id":"l6k","s":"k","x":349,"y":185},{"id":"l6k","s":"k","x":353,"y":187},{"id":"l6k","s":"k","x":357,"y":186},{"id":"l6k","s":"k","x":361,"y":184},{"id":"l6k","s":"k","x":365,"y":182},{"id":"l6k","s":"k","x":369,"y":180},{"id":"l6k","s":"k","x":373,"y":178},{"id":"l6k","s":"k","x":377,"y":177},{"id":"l6k","s":"k","x":381,"y":176},{"id":"l6k","s":"k","x":385,"y":179},{"id":"l6k","s":"k","x":389,"y":177},{"id":"l6k","s":"k","x":393,"y":180},{"id":"l6k","s":"k","x":397,"y":181},{"id":"l6k","s":"k","x":401,"y":179},{"id":"l6k","s":"k","x":405,"y":178},{"id":"l6k","s":"k","x":409,"y":177},{"id":"l6k","s":"k","x":413,"y":175},{"id":"l6k","s":"k","x":417,"y":172},{"id":"l6k","s":"k","x":420,"y":170},{"id":"l6k","s":"k","x":424,"y":167},{"id":"l6k","s":"k","x":428,"y":164},{"id":"l6k","s":"k","x":432,"y":161},{"id":"l6k","s":"k","x":436,"y":158},{"id":"l6k","s":"k","x":440,"y":157},{"id":"l6k","s":"k","x":444,"y":156},{"id":"l6k","s":"k","x":448,"y":157},{"id":"l6k","s":"k","x":452,"y":156},{"id":"l6k","s":"k","x":456,"y":157},{"id":"l6k","s":"k","x":460,"y":158},{"id":"l6k","s":"k","x":464,"y":157},{"id":"l6k","s":"k","x":468,"y":155},{"id":"l6k","s":"k","x":472,"y":154},{"id":"l6k","s":"k","x":476,"y":157},{"id":"l6k","s":"k","x":480,"y":158},{"id":"l6k","s":"k","x":484,"y":160},{"id":"l6k","s":"k","x":488,"y":164},{"id":"l6k","s":"k","x":492,"y":168},{"id":"l6k","s":"k","x":497,"y":172},{"id":"l6k","s":"k","x":501,"y":172},{"id":"l6k","s":"k","x":505,"y":173},{"id":"l6k","s":"k","x":509,"y":174},{"id":"l6k","s":"k","x":513,"y":175},{"id":"l6k","s":"k","x":517,"y":176},{"id":"l6k","s":"k","x":521,"y":177},{"id":"l6k","s":"k","x":525,"y":178},{"id":"l6k","s":"k","x":529,"y":179},{"id":"l6k","s":"k","x":533,"y":180},{"id":"l6k","s":"k","x":537,"y":179},{"id":"l6k","s":"k","x":541,"y":180},{"id":"l6k","s":"k","x":545,"y":178},{"id":"l6k","s":"k","x":549,"y":179},{"id":"l6k","s":"k","x":553,"y":177},{"id":"l6k","s":"k","x":557,"y":177},{"id":"l6k","s":"k","x":561,"y":178},{"id":"l6k","s":"k","x":565,"y":179},{"id":"l6k","s":"k","x":569,"y":180},{"id":"l6k","s":"k","x":573,"y":184},{"id":"l6k","s":"k","x":577,"y":188},{"id":"l6k","s":"k","x":581,"y":185},{"id":"l6k","s":"k","x":585,"y":183},{"id":"l6k","s":"k","x":589,"y":183},{"id":"l6k","s":"k","x":593,"y":185},{"id":"l6k","s":"k","x":598,"y":183},
{"id":"l12k","s":"k","x":345,"y":240},{"id":"l12k","s":"k","x":349,"y":238},{"id":"l12k","s":"k","x":353,"y":240},{"id":"l12k","s":"k","x":357,"y":238},{"id":"l12k","s":"k","x":361,"y":242},{"id":"l12k","s":"k","x":365,"y":240},{"id":"l12k","s":"k","x":369,"y":238},{"id":"l12k","s":"k","x":373,"y":240},{"id":"l12k","s":"k","x":377,"y":243},{"id":"l12k","s":"k","x":381,"y":245},{"id":"l12k","s":"k","x":385,"y":244},{"id":"l12k","s":"k","x":389,"y":247},{"id":"l12k","s":"k","x":393,"y":248},{"id":"l12k","s":"k","x":397,"y":250},{"id":"l12k","s":"k","x":401,"y":249},{"id":"l12k","s":"k","x":405,"y":248},{"id":"l12k","s":"k","x":409,"y":249},{"id":"l12k","s":"k","x":413,"y":250},{"id":"l12k","s":"k","x":417,"y":247},{"id":"l12k","s":"k","x":421,"y":245},{"id":"l12k","s":"k","x":425,"y":243},{"id":"l12k","s":"k","x":429,"y":244},{"id":"l12k","s":"k","x":433,"y":242},{"id":"l12k","s":"k","x":437,"y":240},{"id":"l12k","s":"k","x":441,"y":241},{"id":"l12k","s":"k","x":445,"y":238},{"id":"l12k","s":"k","x":449,"y":237},{"id":"l12k","s":"k","x":453,"y":237},{"id":"l12k","s":"k","x":457,"y":236},{"id":"l12k","s":"k","x":461,"y":235},{"id":"l12k","s":"k","x":465,"y":233},{"id":"l12k","s":"k","x":469,"y":232},{"id":"l12k","s":"k","x":473,"y":233},{"id":"l12k","s":"k","x":477,"y":235},{"id":"l12k","s":"k","x":481,"y":238},{"id":"l12k","s":"k","x":485,"y":241},{"id":"l12k","s":"k","x":489,"y":245},{"id":"l12k","s":"k","x":493,"y":249},{"id":"l12k","s":"k","x":497,"y":253},{"id":"l12k","s":"k","x":501,"y":256},{"id":"l12k","s":"k","x":505,"y":259},{"id":"l12k","s":"k","x":509,"y":262},{"id":"l12k","s":"k","x":513,"y":264},{"id":"l12k","s":"k","x":517,"y":267},{"id":"l12k","s":"k","x":521,"y":266},{"id":"l12k","s":"k","x":525,"y":265},{"id":"l12k","s":"k","x":529,"y":264},{"id":"l12k","s":"k","x":533,"y":262},{"id":"l12k","s":"k","x":537,"y":263},{"id":"l12k","s":"k","x":541,"y":260},{"id":"l12k","s":"k","x":545,"y":261},{"id":"l12k","s":"k","x":549,"y":258},{"id":"l12k","s":"k","x":553,"y":257},{"id":"l12k","s":"k","x":557,"y":256},{"id":"l12k","s":"k","x":561,"y":253},{"id":"l12k","s":"k","x":565,"y":250},{"id":"l12k","s":"k","x":569,"y":249},{"id":"l12k","s":"k","x":573,"y":247},{"id":"l12k","s":"k","x":577,"y":248},{"id":"l12k","s":"k","x":581,"y":247},{"id":"l12k","s":"k","x":585,"y":244},{"id":"l12k","s":"k","x":589,"y":242},{"id":"l12k","s":"k","x":593,"y":239},{"id":"l12k","s":"k","x":598,"y":235},
{"id":"l25k","s":"k","x":345,"y":328},{"id":"l25k","s":"k","x":349,"y":330},{"id":"l25k","s":"k","x":353,"y":331},{"id":"l25k","s":"k","x":357,"y":330},{"id":"l25k","s":"k","x":361,"y":332},{"id":"l25k","s":"k","x":365,"y":331},{"id":"l25k","s":"k","x":369,"y":333},{"id":"l25k","s":"k","x":373,"y":334},{"id":"l25k","s":"k","x":377,"y":335},{"id":"l25k","s":"k","x":381,"y":336},{"id":"l25k","s":"k","x":385,"y":338},{"id":"l25k","s":"k","x":389,"y":341},{"id":"l25k","s":"k","x":393,"y":343},{"id":"l25k","s":"k","x":397,"y":341},{"id":"l25k","s":"k","x":401,"y":339},{"id":"l25k","s":"k","x":405,"y":337},{"id":"l25k","s":"k","x":409,"y":334},{"id":"l25k","s":"k","x":413,"y":332},{"id":"l25k","s":"k","x":417,"y":331},{"id":"l25k","s":"k","x":421,"y":329},{"id":"l25k","s":"k","x":425,"y":328},{"id":"l25k","s":"k","x":430,"y":327},{"id":"l25k","s":"k","x":434,"y":323},{"id":"l25k","s":"k","x":438,"y":318},{"id":"l25k","s":"k","x":442,"y":313},{"id":"l25k","s":"k","x":446,"y":308},{"id":"l25k","s":"k","x":450,"y":304},{"id":"l25k","s":"k","x":454,"y":302},{"id":"l25k","s":"k","x":458,"y":300},{"id":"l25k","s":"k","x":462,"y":300},{"id":"l25k","s":"k","x":466,"y":302},{"id":"l25k","s":"k","x":470,"y":304},{"id":"l25k","s":"k","x":474,"y":306},{"id":"l25k","s":"k","x":478,"y":310},{"id":"l25k","s":"k","x":482,"y":316},{"id":"l25k","s":"k","x":486,"y":322},{"id":"l25k","s":"k","x":490,"y":328},{"id":"l25k","s":"k","x":493,"y":333},{"id":"l25k","s":"k","x":497,"y":338},{"id":"l25k","s":"k","x":501,"y":343},{"id":"l25k","s":"k","x":505,"y":347},{"id":"l25k","s":"k","x":509,"y":350},{"id":"l25k","s":"k","x":513,"y":352},{"id":"l25k","s":"k","x":517,"y":354},{"id":"l25k","s":"k","x":520,"y":355},{"id":"l25k","s":"k","x":524,"y":353},{"id":"l25k","s":"k","x":528,"y":351},{"id":"l25k","s":"k","x":532,"y":349},{"id":"l25k","s":"k","x":536,"y":347},{"id":"l25k","s":"k","x":540,"y":345},{"id":"l25k","s":"k","x":544,"y":344},{"id":"l25k","s":"k","x":548,"y":343},{"id":"l25k","s":"k","x":552,"y":342},{"id":"l25k","s":"k","x":556,"y":341},{"id":"l25k","s":"k","x":560,"y":340},{"id":"l25k","s":"k","x":564,"y":339},{"id":"l25k","s":"k","x":568,"y":337},{"id":"l25k","s":"k","x":572,"y":335},{"id":"l25k","s":"k","x":576,"y":333},{"id":"l25k","s":"k","x":580,"y":332},{"id":"l25k","s":"k","x":584,"y":330},{"id":"l25k","s":"k","x":588,"y":330},{"id":"l25k","s":"k","x":592,"y":331},{"id":"l25k","s":"k","x":595,"y":333},{"id":"l25k","s":"k","x":598,"y":333},
{"id":"l50k","s":"k","x":345,"y":408},{"id":"l50k","s":"k","x":349,"y":410},{"id":"l50k","s":"k","x":353,"y":413},{"id":"l50k","s":"k","x":357,"y":416},{"id":"l50k","s":"k","x":361,"y":417},{"id":"l50k","s":"k","x":365,"y":419},{"id":"l50k","s":"k","x":369,"y":420},{"id":"l50k","s":"k","x":373,"y":422},{"id":"l50k","s":"k","x":377,"y":423},{"id":"l50k","s":"k","x":381,"y":424},{"id":"l50k","s":"k","x":385,"y":426},{"id":"l50k","s":"k","x":389,"y":427},{"id":"l50k","s":"k","x":393,"y":428},{"id":"l50k","s":"k","x":397,"y":427},{"id":"l50k","s":"k","x":401,"y":429},{"id":"l50k","s":"k","x":405,"y":427},{"id":"l50k","s":"k","x":409,"y":430},{"id":"l50k","s":"k","x":413,"y":431},{"id":"l50k","s":"k","x":417,"y":432},{"id":"l50k","s":"k","x":421,"y":425},{"id":"l50k","s":"k","x":425,"y":418},{"id":"l50k","s":"k","x":429,"y":411},{"id":"l50k","s":"k","x":433,"y":405},{"id":"l50k","s":"k","x":437,"y":400},{"id":"l50k","s":"k","x":441,"y":396},{"id":"l50k","s":"k","x":445,"y":394},{"id":"l50k","s":"k","x":449,"y":395},{"id":"l50k","s":"k","x":453,"y":394},{"id":"l50k","s":"k","x":457,"y":395},{"id":"l50k","s":"k","x":461,"y":396},{"id":"l50k","s":"k","x":465,"y":399},{"id":"l50k","s":"k","x":469,"y":400},{"id":"l50k","s":"k","x":473,"y":397},{"id":"l50k","s":"k","x":477,"y":396},{"id":"l50k","s":"k","x":481,"y":393},{"id":"l50k","s":"k","x":485,"y":391},{"id":"l50k","s":"k","x":489,"y":390},{"id":"l50k","s":"k","x":493,"y":392},{"id":"l50k","s":"k","x":497,"y":394},{"id":"l50k","s":"k","x":501,"y":396},{"id":"l50k","s":"k","x":505,"y":395},{"id":"l50k","s":"k","x":509,"y":398},{"id":"l50k","s":"k","x":513,"y":400},{"id":"l50k","s":"k","x":517,"y":402},{"id":"l50k","s":"k","x":521,"y":406},{"id":"l50k","s":"k","x":525,"y":408},{"id":"l50k","s":"k","x":529,"y":407},{"id":"l50k","s":"k","x":533,"y":409},{"id":"l50k","s":"k","x":537,"y":408},{"id":"l50k","s":"k","x":541,"y":410},{"id":"l50k","s":"k","x":545,"y":409},{"id":"l50k","s":"k","x":549,"y":411},{"id":"l50k","s":"k","x":553,"y":409},{"id":"l50k","s":"k","x":557,"y":410},{"id":"l50k","s":"k","x":561,"y":407},{"id":"l50k","s":"k","x":565,"y":405},{"id":"l50k","s":"k","x":569,"y":406},{"id":"l50k","s":"k","x":573,"y":404},{"id":"l50k","s":"k","x":577,"y":406},{"id":"l50k","s":"k","x":581,"y":405},{"id":"l50k","s":"k","x":585,"y":404},{"id":"l50k","s":"k","x":589,"y":403},{"id":"l50k","s":"k","x":593,"y":402},{"id":"l50k","s":"k","x":598,"y":400},
{"id":"l100k","s":"k","x":345,"y":510},{"id":"l100k","s":"k","x":349,"y":507},{"id":"l100k","s":"k","x":353,"y":508},{"id":"l100k","s":"k","x":357,"y":510},{"id":"l100k","s":"k","x":361,"y":509},{"id":"l100k","s":"k","x":365,"y":511},{"id":"l100k","s":"k","x":369,"y":510},{"id":"l100k","s":"k","x":373,"y":512},{"id":"l100k","s":"k","x":377,"y":510},{"id":"l100k","s":"k","x":381,"y":508},{"id":"l100k","s":"k","x":385,"y":505},{"id":"l100k","s":"k","x":389,"y":502},{"id":"l100k","s":"k","x":393,"y":504},{"id":"l100k","s":"k","x":397,"y":503},{"id":"l100k","s":"k","x":401,"y":505},{"id":"l100k","s":"k","x":405,"y":502},{"id":"l100k","s":"k","x":409,"y":498},{"id":"l100k","s":"k","x":413,"y":495},{"id":"l100k","s":"k","x":417,"y":492},{"id":"l100k","s":"k","x":421,"y":488},{"id":"l100k","s":"k","x":425,"y":483},{"id":"l100k","s":"k","x":429,"y":478},{"id":"l100k","s":"k","x":432,"y":475},{"id":"l100k","s":"k","x":436,"y":477},{"id":"l100k","s":"k","x":440,"y":479},{"id":"l100k","s":"k","x":444,"y":483},{"id":"l100k","s":"k","x":448,"y":486},{"id":"l100k","s":"k","x":452,"y":488},{"id":"l100k","s":"k","x":456,"y":489},{"id":"l100k","s":"k","x":460,"y":487},{"id":"l100k","s":"k","x":464,"y":485},{"id":"l100k","s":"k","x":468,"y":481},{"id":"l100k","s":"k","x":472,"y":480},{"id":"l100k","s":"k","x":476,"y":479},{"id":"l100k","s":"k","x":480,"y":478},{"id":"l100k","s":"k","x":483,"y":478},{"id":"l100k","s":"k","x":486,"y":482},{"id":"l100k","s":"k","x":489,"y":488},{"id":"l100k","s":"k","x":492,"y":495},{"id":"l100k","s":"k","x":495,"y":502},{"id":"l100k","s":"k","x":498,"y":507},{"id":"l100k","s":"k","x":502,"y":508},{"id":"l100k","s":"k","x":506,"y":509},{"id":"l100k","s":"k","x":510,"y":508},{"id":"l100k","s":"k","x":514,"y":509},{"id":"l100k","s":"k","x":518,"y":510},{"id":"l100k","s":"k","x":522,"y":510},{"id":"l100k","s":"k","x":526,"y":508},{"id":"l100k","s":"k","x":530,"y":510},{"id":"l100k","s":"k","x":534,"y":508},{"id":"l100k","s":"k","x":538,"y":511},{"id":"l100k","s":"k","x":542,"y":513},{"id":"l100k","s":"k","x":546,"y":515},{"id":"l100k","s":"k","x":550,"y":517},{"id":"l100k","s":"k","x":554,"y":519},{"id":"l100k","s":"k","x":558,"y":520},{"id":"l100k","s":"k","x":562,"y":518},{"id":"l100k","s":"k","x":566,"y":517},{"id":"l100k","s":"k","x":570,"y":519},{"id":"l100k","s":"k","x":574,"y":517},{"id":"l100k","s":"k","x":578,"y":518},{"id":"l100k","s":"k","x":582,"y":520},{"id":"l100k","s":"k","x":586,"y":519},{"id":"l100k","s":"k","x":590,"y":521},{"id":"l100k","s":"k","x":594,"y":519},{"id":"l100k","s":"k","x":598,"y":520},
{"id":"l200k","s":"k","x":345,"y":568},{"id":"l200k","s":"k","x":348,"y":575},{"id":"l200k","s":"k","x":352,"y":582},{"id":"l200k","s":"k","x":356,"y":580},{"id":"l200k","s":"k","x":360,"y":582},{"id":"l200k","s":"k","x":364,"y":580},{"id":"l200k","s":"k","x":368,"y":578},{"id":"l200k","s":"k","x":372,"y":580},{"id":"l200k","s":"k","x":376,"y":578},{"id":"l200k","s":"k","x":380,"y":577},{"id":"l200k","s":"k","x":384,"y":579},{"id":"l200k","s":"k","x":388,"y":576},{"id":"l200k","s":"k","x":392,"y":578},{"id":"l200k","s":"k","x":396,"y":576},{"id":"l200k","s":"k","x":400,"y":577},{"id":"l200k","s":"k","x":404,"y":578},{"id":"l200k","s":"k","x":408,"y":575},{"id":"l200k","s":"k","x":412,"y":572},{"id":"l200k","s":"k","x":416,"y":570},{"id":"l200k","s":"k","x":420,"y":566},{"id":"l200k","s":"k","x":424,"y":563},{"id":"l200k","s":"k","x":428,"y":560},{"id":"l200k","s":"k","x":432,"y":558},{"id":"l200k","s":"k","x":436,"y":559},{"id":"l200k","s":"k","x":440,"y":562},{"id":"l200k","s":"k","x":444,"y":564},{"id":"l200k","s":"k","x":447,"y":565},{"id":"l200k","s":"k","x":451,"y":562},{"id":"l200k","s":"k","x":455,"y":559},{"id":"l200k","s":"k","x":459,"y":557},{"id":"l200k","s":"k","x":463,"y":556},{"id":"l200k","s":"k","x":467,"y":555},{"id":"l200k","s":"k","x":471,"y":556},{"id":"l200k","s":"k","x":475,"y":558},{"id":"l200k","s":"k","x":479,"y":560},{"id":"l200k","s":"k","x":483,"y":561},{"id":"l200k","s":"k","x":487,"y":563},{"id":"l200k","s":"k","x":491,"y":564},{"id":"l200k","s":"k","x":495,"y":566},{"id":"l200k","s":"k","x":499,"y":567},{"id":"l200k","s":"k","x":503,"y":568},{"id":"l200k","s":"k","x":507,"y":569},{"id":"l200k","s":"k","x":510,"y":568},{"id":"l200k","s":"k","x":514,"y":563},{"id":"l200k","s":"k","x":518,"y":557},{"id":"l200k","s":"k","x":522,"y":552},{"id":"l200k","s":"k","x":525,"y":550},{"id":"l200k","s":"k","x":529,"y":553},{"id":"l200k","s":"k","x":533,"y":556},{"id":"l200k","s":"k","x":537,"y":558},{"id":"l200k","s":"k","x":541,"y":557},{"id":"l200k","s":"k","x":545,"y":556},{"id":"l200k","s":"k","x":549,"y":558},{"id":"l200k","s":"k","x":553,"y":560},{"id":"l200k","s":"k","x":557,"y":558},{"id":"l200k","s":"k","x":561,"y":556},{"id":"l200k","s":"k","x":565,"y":557},{"id":"l200k","s":"k","x":569,"y":559},{"id":"l200k","s":"k","x":573,"y":558},{"id":"l200k","s":"k","x":577,"y":560},{"id":"l200k","s":"k","x":581,"y":561},{"id":"l200k","s":"k","x":585,"y":560},{"id":"l200k","s":"k","x":589,"y":557},{"id":"l200k","s":"k","x":593,"y":558},{"id":"l200k","s":"k","x":598,"y":557},
{"id":"l400k","s":"k","x":345,"y":638},{"id":"l400k","s":"k","x":349,"y":640},{"id":"l400k","s":"k","x":353,"y":644},{"id":"l400k","s":"k","x":357,"y":646},{"id":"l400k","s":"k","x":361,"y":647},{"id":"l400k","s":"k","x":365,"y":647},{"id":"l400k","s":"k","x":369,"y":648},{"id":"l400k","s":"k","x":373,"y":647},{"id":"l400k","s":"k","x":377,"y":648},{"id":"l400k","s":"k","x":381,"y":648},{"id":"l400k","s":"k","x":385,"y":649},{"id":"l400k","s":"k","x":389,"y":650},{"id":"l400k","s":"k","x":393,"y":650},{"id":"l400k","s":"k","x":397,"y":651},{"id":"l400k","s":"k","x":401,"y":652},{"id":"l400k","s":"k","x":405,"y":652},{"id":"l400k","s":"k","x":409,"y":651},{"id":"l400k","s":"k","x":413,"y":652},{"id":"l400k","s":"k","x":417,"y":648},{"id":"l400k","s":"k","x":421,"y":643},{"id":"l400k","s":"k","x":425,"y":637},{"id":"l400k","s":"k","x":429,"y":633},{"id":"l400k","s":"k","x":433,"y":630},{"id":"l400k","s":"k","x":437,"y":632},{"id":"l400k","s":"k","x":441,"y":635},{"id":"l400k","s":"k","x":445,"y":638},{"id":"l400k","s":"k","x":449,"y":638},{"id":"l400k","s":"k","x":453,"y":637},{"id":"l400k","s":"k","x":457,"y":635},{"id":"l400k","s":"k","x":461,"y":631},{"id":"l400k","s":"k","x":465,"y":627},{"id":"l400k","s":"k","x":469,"y":623},{"id":"l400k","s":"k","x":473,"y":622},{"id":"l400k","s":"k","x":477,"y":623},{"id":"l400k","s":"k","x":481,"y":622},{"id":"l400k","s":"k","x":485,"y":624},{"id":"l400k","s":"k","x":489,"y":627},{"id":"l400k","s":"k","x":493,"y":630},{"id":"l400k","s":"k","x":497,"y":629},{"id":"l400k","s":"k","x":501,"y":627},{"id":"l400k","s":"k","x":505,"y":625},{"id":"l400k","s":"k","x":509,"y":623},{"id":"l400k","s":"k","x":513,"y":622},{"id":"l400k","s":"k","x":517,"y":621},{"id":"l400k","s":"k","x":521,"y":620},{"id":"l400k","s":"k","x":525,"y":619},{"id":"l400k","s":"k","x":529,"y":617},{"id":"l400k","s":"k","x":533,"y":616},{"id":"l400k","s":"k","x":537,"y":614},{"id":"l400k","s":"k","x":541,"y":613},{"id":"l400k","s":"k","x":543,"y":612},{"id":"l400k","s":"k","x":547,"y":615},{"id":"l400k","s":"k","x":551,"y":614},{"id":"l400k","s":"k","x":555,"y":616},{"id":"l400k","s":"k","x":559,"y":617},{"id":"l400k","s":"k","x":563,"y":617},{"id":"l400k","s":"k","x":567,"y":618},{"id":"l400k","s":"k","x":571,"y":619},{"id":"l400k","s":"k","x":575,"y":620},{"id":"l400k","s":"k","x":579,"y":622},{"id":"l400k","s":"k","x":583,"y":624},{"id":"l400k","s":"k","x":587,"y":626},{"id":"l400k","s":"k","x":591,"y":629},{"id":"l400k","s":"k","x":595,"y":632},{"id":"l400k","s":"k","x":598,"y":635},
{"id":"lfk","s":"k","x":345,"y":695},{"id":"lfk","s":"k","x":349,"y":691},{"id":"lfk","s":"k","x":353,"y":689},{"id":"lfk","s":"k","x":357,"y":687},{"id":"lfk","s":"k","x":360,"y":685},{"id":"lfk","s":"k","x":363,"y":690},{"id":"lfk","s":"k","x":367,"y":693},{"id":"lfk","s":"k","x":371,"y":697},{"id":"lfk","s":"k","x":375,"y":699},{"id":"lfk","s":"k","x":379,"y":702},{"id":"lfk","s":"k","x":383,"y":704},{"id":"lfk","s":"k","x":387,"y":707},{"id":"lfk","s":"k","x":391,"y":710},{"id":"lfk","s":"k","x":395,"y":712},{"id":"lfk","s":"k","x":399,"y":713},{"id":"lfk","s":"k","x":403,"y":714},{"id":"lfk","s":"k","x":407,"y":713},{"id":"lfk","s":"k","x":411,"y":712},{"id":"lfk","s":"k","x":415,"y":715},{"id":"lfk","s":"k","x":419,"y":713},{"id":"lfk","s":"k","x":423,"y":716},{"id":"lfk","s":"k","x":427,"y":720},{"id":"lfk","s":"k","x":431,"y":716},{"id":"lfk","s":"k","x":435,"y":714},{"id":"lfk","s":"k","x":439,"y":711},{"id":"lfk","s":"k","x":443,"y":708},{"id":"lfk","s":"k","x":447,"y":705},{"id":"lfk","s":"k","x":451,"y":706},{"id":"lfk","s":"k","x":455,"y":708},{"id":"lfk","s":"k","x":459,"y":707},{"id":"lfk","s":"k","x":463,"y":710},{"id":"lfk","s":"k","x":467,"y":709},{"id":"lfk","s":"k","x":471,"y":714},{"id":"lfk","s":"k","x":475,"y":715},{"id":"lfk","s":"k","x":479,"y":713},{"id":"lfk","s":"k","x":483,"y":710},{"id":"lfk","s":"k","x":487,"y":703},{"id":"lfk","s":"k","x":491,"y":704},{"id":"lfk","s":"k","x":495,"y":702},{"id":"lfk","s":"k","x":499,"y":704},{"id":"lfk","s":"k","x":503,"y":703},{"id":"lfk","s":"k","x":507,"y":704},{"id":"lfk","s":"k","x":511,"y":702},{"id":"lfk","s":"k","x":515,"y":704},{"id":"lfk","s":"k","x":519,"y":703},{"id":"lfk","s":"k","x":523,"y":704},{"id":"lfk","s":"k","x":527,"y":702},{"id":"lfk","s":"k","x":531,"y":703},{"id":"lfk","s":"k","x":535,"y":704},{"id":"lfk","s":"k","x":539,"y":706},{"id":"lfk","s":"k","x":543,"y":704},{"id":"lfk","s":"k","x":547,"y":705},{"id":"lfk","s":"k","x":551,"y":707},{"id":"lfk","s":"k","x":555,"y":708},{"id":"lfk","s":"k","x":559,"y":710},{"id":"lfk","s":"k","x":563,"y":712},{"id":"lfk","s":"k","x":567,"y":716},{"id":"lfk","s":"k","x":571,"y":720},{"id":"lfk","s":"k","x":575,"y":724},{"id":"lfk","s":"k","x":579,"y":728},{"id":"lfk","s":"k","x":583,"y":732},{"id":"lfk","s":"k","x":587,"y":736},{"id":"lfk","s":"k","x":591,"y":739},{"id":"lfk","s":"k","x":595,"y":743},{"id":"lfk","s":"k","x":598,"y":745},
{"id":"b1k","s":"k","x":822,"y":125},{"id":"b1k","s":"k","x":826,"y":126},{"id":"b1k","s":"k","x":830,"y":127},{"id":"b1k","s":"k","x":834,"y":126},{"id":"b1k","s":"k","x":838,"y":128},{"id":"b1k","s":"k","x":842,"y":129},{"id":"b1k","s":"k","x":846,"y":130},{"id":"b1k","s":"k","x":850,"y":127},{"id":"b1k","s":"k","x":854,"y":124},{"id":"b1k","s":"k","x":858,"y":120},{"id":"b1k","s":"k","x":862,"y":116},{"id":"b1k","s":"k","x":866,"y":113},{"id":"b1k","s":"k","x":869,"y":112},{"id":"b1k","s":"k","x":872,"y":114},{"id":"b1k","s":"k","x":876,"y":116},{"id":"b1k","s":"k","x":880,"y":117},{"id":"b1k","s":"k","x":884,"y":118},{"id":"b1k","s":"k","x":888,"y":119},{"id":"b1k","s":"k","x":892,"y":121},{"id":"b1k","s":"k","x":896,"y":120},{"id":"b1k","s":"k","x":900,"y":122},{"id":"b1k","s":"k","x":904,"y":123},{"id":"b1k","s":"k","x":908,"y":122},{"id":"b1k","s":"k","x":913,"y":125},{"id":"b1k","s":"k","x":917,"y":124},{"id":"b1k","s":"k","x":921,"y":126},{"id":"b1k","s":"k","x":925,"y":125},{"id":"b1k","s":"k","x":929,"y":127},{"id":"b1k","s":"k","x":933,"y":126},{"id":"b1k","s":"k","x":936,"y":128},{"id":"b1k","s":"k","x":940,"y":127},{"id":"b1k","s":"k","x":944,"y":129},{"id":"b1k","s":"k","x":948,"y":128},{"id":"b1k","s":"k","x":952,"y":130},{"id":"b1k","s":"k","x":956,"y":129},{"id":"b1k","s":"k","x":960,"y":131},{"id":"b1k","s":"k","x":966,"y":132},
{"id":"b2k","s":"k","x":983,"y":132},{"id":"b2k","s":"k","x":987,"y":131},{"id":"b2k","s":"k","x":991,"y":133},{"id":"b2k","s":"k","x":995,"y":131},{"id":"b2k","s":"k","x":999,"y":132},{"id":"b2k","s":"k","x":1003,"y":134},{"id":"b2k","s":"k","x":1007,"y":133},{"id":"b2k","s":"k","x":1011,"y":130},{"id":"b2k","s":"k","x":1015,"y":126},{"id":"b2k","s":"k","x":1018,"y":123},{"id":"b2k","s":"k","x":1022,"y":119},{"id":"b2k","s":"k","x":1026,"y":116},{"id":"b2k","s":"k","x":1029,"y":114},{"id":"b2k","s":"k","x":1031,"y":113},{"id":"b2k","s":"k","x":1034,"y":115},{"id":"b2k","s":"k","x":1038,"y":118},{"id":"b2k","s":"k","x":1041,"y":121},{"id":"b2k","s":"k","x":1044,"y":123},{"id":"b2k","s":"k","x":1048,"y":125},{"id":"b2k","s":"k","x":1052,"y":127},{"id":"b2k","s":"k","x":1056,"y":128},{"id":"b2k","s":"k","x":1060,"y":126},{"id":"b2k","s":"k","x":1063,"y":128},{"id":"b2k","s":"k","x":1067,"y":126},{"id":"b2k","s":"k","x":1071,"y":128},{"id":"b2k","s":"k","x":1075,"y":127},{"id":"b2k","s":"k","x":1079,"y":125},{"id":"b2k","s":"k","x":1083,"y":127},{"id":"b2k","s":"k","x":1087,"y":126},{"id":"b2k","s":"k","x":1091,"y":128},{"id":"b2k","s":"k","x":1096,"y":126},{"id":"b2k","s":"k","x":1100,"y":127},{"id":"b2k","s":"k","x":1104,"y":125},{"id":"b2k","s":"k","x":1108,"y":127},{"id":"b2k","s":"k","x":1112,"y":126},{"id":"b2k","s":"k","x":1116,"y":128},{"id":"b2k","s":"k","x":1120,"y":127},{"id":"b2k","s":"k","x":1124,"y":128},
{"id":"b3k","s":"k","x":822,"y":218},{"id":"b3k","s":"k","x":826,"y":216},{"id":"b3k","s":"k","x":830,"y":217},{"id":"b3k","s":"k","x":835,"y":215},{"id":"b3k","s":"k","x":839,"y":218},{"id":"b3k","s":"k","x":843,"y":222},{"id":"b3k","s":"k","x":846,"y":226},{"id":"b3k","s":"k","x":848,"y":228},{"id":"b3k","s":"k","x":851,"y":220},{"id":"b3k","s":"k","x":854,"y":207},{"id":"b3k","s":"k","x":858,"y":192},{"id":"b3k","s":"k","x":862,"y":180},{"id":"b3k","s":"k","x":865,"y":175},{"id":"b3k","s":"k","x":867,"y":173},{"id":"b3k","s":"k","x":870,"y":176},{"id":"b3k","s":"k","x":873,"y":179},{"id":"b3k","s":"k","x":876,"y":182},{"id":"b3k","s":"k","x":880,"y":188},{"id":"b3k","s":"k","x":884,"y":195},{"id":"b3k","s":"k","x":888,"y":202},{"id":"b3k","s":"k","x":891,"y":207},{"id":"b3k","s":"k","x":895,"y":213},{"id":"b3k","s":"k","x":899,"y":218},{"id":"b3k","s":"k","x":903,"y":223},{"id":"b3k","s":"k","x":907,"y":227},{"id":"b3k","s":"k","x":910,"y":230},{"id":"b3k","s":"k","x":914,"y":228},{"id":"b3k","s":"k","x":918,"y":231},{"id":"b3k","s":"k","x":922,"y":229},{"id":"b3k","s":"k","x":926,"y":230},{"id":"b3k","s":"k","x":930,"y":229},{"id":"b3k","s":"k","x":934,"y":231},{"id":"b3k","s":"k","x":938,"y":228},{"id":"b3k","s":"k","x":942,"y":231},{"id":"b3k","s":"k","x":946,"y":229},{"id":"b3k","s":"k","x":950,"y":230},{"id":"b3k","s":"k","x":954,"y":228},{"id":"b3k","s":"k","x":958,"y":227},{"id":"b3k","s":"k","x":962,"y":229},{"id":"b3k","s":"k","x":966,"y":228},
{"id":"b4k","s":"k","x":983,"y":218},{"id":"b4k","s":"k","x":987,"y":216},{"id":"b4k","s":"k","x":991,"y":215},{"id":"b4k","s":"k","x":996,"y":215},{"id":"b4k","s":"k","x":1000,"y":217},{"id":"b4k","s":"k","x":1004,"y":219},{"id":"b4k","s":"k","x":1008,"y":220},{"id":"b4k","s":"k","x":1012,"y":220},{"id":"b4k","s":"k","x":1015,"y":212},{"id":"b4k","s":"k","x":1018,"y":196},{"id":"b4k","s":"k","x":1021,"y":180},{"id":"b4k","s":"k","x":1023,"y":170},{"id":"b4k","s":"k","x":1025,"y":165},{"id":"b4k","s":"k","x":1028,"y":166},{"id":"b4k","s":"k","x":1031,"y":170},{"id":"b4k","s":"k","x":1034,"y":174},{"id":"b4k","s":"k","x":1037,"y":176},{"id":"b4k","s":"k","x":1040,"y":180},{"id":"b4k","s":"k","x":1044,"y":184},{"id":"b4k","s":"k","x":1048,"y":187},{"id":"b4k","s":"k","x":1052,"y":190},{"id":"b4k","s":"k","x":1056,"y":194},{"id":"b4k","s":"k","x":1060,"y":197},{"id":"b4k","s":"k","x":1063,"y":200},{"id":"b4k","s":"k","x":1067,"y":201},{"id":"b4k","s":"k","x":1071,"y":203},{"id":"b4k","s":"k","x":1075,"y":202},{"id":"b4k","s":"k","x":1079,"y":205},{"id":"b4k","s":"k","x":1083,"y":204},{"id":"b4k","s":"k","x":1087,"y":206},{"id":"b4k","s":"k","x":1091,"y":207},{"id":"b4k","s":"k","x":1095,"y":209},{"id":"b4k","s":"k","x":1100,"y":210},{"id":"b4k","s":"k","x":1104,"y":209},{"id":"b4k","s":"k","x":1108,"y":212},{"id":"b4k","s":"k","x":1112,"y":213},{"id":"b4k","s":"k","x":1116,"y":213},{"id":"b4k","s":"k","x":1120,"y":216},{"id":"b4k","s":"k","x":1124,"y":220},

{"id":"e1d","s":"ed","x":635,"y":572},{"id":"e1d","s":"ed","x":640,"y":570},{"id":"e1d","s":"ed","x":645,"y":571},{"id":"e1d","s":"ed","x":648,"y":570},{"id":"e1d","s":"ed","x":652,"y":572},{"id":"e1d","s":"ed","x":656,"y":573},{"id":"e1d","s":"ed","x":660,"y":571},{"id":"e1d","s":"ed","x":665,"y":569},{"id":"e1d","s":"ed","x":670,"y":566},{"id":"e1d","s":"ed","x":674,"y":563},{"id":"e1d","s":"ed","x":678,"y":559},{"id":"e1d","s":"ed","x":682,"y":555},{"id":"e1d","s":"ed","x":687,"y":553},{"id":"e1d","s":"ed","x":692,"y":551},{"id":"e1d","s":"ed","x":698,"y":548},{"id":"e1d","s":"ed","x":703,"y":549},{"id":"e1d","s":"ed","x":708,"y":549},{"id":"e1d","s":"ed","x":715,"y":550},{"id":"e1d","s":"ed","x":720,"y":551},{"id":"e1d","s":"ed","x":725,"y":553},{"id":"e1d","s":"ed","x":730,"y":554},{"id":"e1d","s":"ed","x":734,"y":556},{"id":"e1d","s":"ed","x":738,"y":557},
{"id":"e2d","s":"ed","x":746,"y":557},{"id":"e2d","s":"ed","x":752,"y":560},{"id":"e2d","s":"ed","x":756,"y":578},{"id":"e2d","s":"ed","x":760,"y":595},{"id":"e2d","s":"ed","x":764,"y":590},{"id":"e2d","s":"ed","x":768,"y":585},{"id":"e2d","s":"ed","x":772,"y":574},{"id":"e2d","s":"ed","x":775,"y":568},{"id":"e2d","s":"ed","x":779,"y":562},{"id":"e2d","s":"ed","x":783,"y":557},{"id":"e2d","s":"ed","x":787,"y":565},{"id":"e2d","s":"ed","x":792,"y":573},{"id":"e2d","s":"ed","x":797,"y":571},{"id":"e2d","s":"ed","x":802,"y":573},{"id":"e2d","s":"ed","x":806,"y":580},{"id":"e2d","s":"ed","x":810,"y":585},{"id":"e2d","s":"ed","x":815,"y":580},{"id":"e2d","s":"ed","x":820,"y":586},{"id":"e2d","s":"ed","x":825,"y":592},{"id":"e2d","s":"ed","x":830,"y":598},{"id":"e2d","s":"ed","x":835,"y":605},{"id":"e2d","s":"ed","x":840,"y":608},{"id":"e2d","s":"ed","x":845,"y":612},{"id":"e2d","s":"ed","x":848,"y":605},
{"id":"e3d","s":"ed","x":856,"y":572},{"id":"e3d","s":"ed","x":863,"y":570},{"id":"e3d","s":"ed","x":869,"y":578},{"id":"e3d","s":"ed","x":875,"y":585},{"id":"e3d","s":"ed","x":880,"y":582},{"id":"e3d","s":"ed","x":885,"y":578},{"id":"e3d","s":"ed","x":890,"y":565},{"id":"e3d","s":"ed","x":894,"y":552},{"id":"e3d","s":"ed","x":897,"y":545},{"id":"e3d","s":"ed","x":900,"y":550},{"id":"e3d","s":"ed","x":905,"y":553},{"id":"e3d","s":"ed","x":911,"y":556},{"id":"e3d","s":"ed","x":917,"y":555},{"id":"e3d","s":"ed","x":925,"y":560},{"id":"e3d","s":"ed","x":933,"y":565},{"id":"e3d","s":"ed","x":940,"y":568},{"id":"e3d","s":"ed","x":947,"y":572},{"id":"e3d","s":"ed","x":953,"y":580},{"id":"e3d","s":"ed","x":958,"y":592},
{"id":"e4d","s":"ed","x":967,"y":567},{"id":"e4d","s":"ed","x":975,"y":572},{"id":"e4d","s":"ed","x":982,"y":582},{"id":"e4d","s":"ed","x":986,"y":578},{"id":"e4d","s":"ed","x":990,"y":572},{"id":"e4d","s":"ed","x":994,"y":564},{"id":"e4d","s":"ed","x":997,"y":558},{"id":"e4d","s":"ed","x":1000,"y":565},{"id":"e4d","s":"ed","x":1003,"y":572},{"id":"e4d","s":"ed","x":1010,"y":578},{"id":"e4d","s":"ed","x":1016,"y":577},{"id":"e4d","s":"ed","x":1023,"y":575},{"id":"e4d","s":"ed","x":1031,"y":574},{"id":"e4d","s":"ed","x":1040,"y":573},{"id":"e4d","s":"ed","x":1048,"y":575},{"id":"e4d","s":"ed","x":1057,"y":577},{"id":"e4d","s":"ed","x":1062,"y":580},{"id":"e4d","s":"ed","x":1067,"y":588},
{"id":"e5d","s":"ed","x":1078,"y":560},{"id":"e5d","s":"ed","x":1081,"y":568},{"id":"e5d","s":"ed","x":1085,"y":570},{"id":"e5d","s":"ed","x":1090,"y":574},{"id":"e5d","s":"ed","x":1094,"y":577},{"id":"e5d","s":"ed","x":1098,"y":580},{"id":"e5d","s":"ed","x":1103,"y":570},{"id":"e5d","s":"ed","x":1109,"y":560},{"id":"e5d","s":"ed","x":1114,"y":570},{"id":"e5d","s":"ed","x":1118,"y":577},{"id":"e5d","s":"ed","x":1122,"y":583},{"id":"e5d","s":"ed","x":1128,"y":572},{"id":"e5d","s":"ed","x":1133,"y":563},{"id":"e5d","s":"ed","x":1137,"y":558},{"id":"e5d","s":"ed","x":1142,"y":570},{"id":"e5d","s":"ed","x":1146,"y":578},{"id":"e5d","s":"ed","x":1150,"y":585},{"id":"e5d","s":"ed","x":1155,"y":575},{"id":"e5d","s":"ed","x":1160,"y":565},{"id":"e5d","s":"ed","x":1165,"y":555},{"id":"e5d","s":"ed","x":1170,"y":566},{"id":"e5d","s":"ed","x":1175,"y":575},{"id":"e5d","s":"ed","x":1178,"y":578},{"id":"e5d","s":"ed","x":1182,"y":583},

{"id":"e1","s":"e","x":635,"y":558},{"id":"e1","s":"e","x":640,"y":557},{"id":"e1","s":"e","x":645,"y":556},{"id":"e1","s":"e","x":648,"y":558},{"id":"e1","s":"e","x":652,"y":560},{"id":"e1","s":"e","x":655,"y":558},{"id":"e1","s":"e","x":658,"y":556},{"id":"e1","s":"e","x":662,"y":558},{"id":"e1","s":"e","x":665,"y":557},{"id":"e1","s":"e","x":668,"y":556},{"id":"e1","s":"e","x":672,"y":553},{"id":"e1","s":"e","x":677,"y":548},{"id":"e1","s":"e","x":681,"y":543},{"id":"e1","s":"e","x":685,"y":538},{"id":"e1","s":"e","x":689,"y":535},{"id":"e1","s":"e","x":693,"y":532},{"id":"e1","s":"e","x":697,"y":533},{"id":"e1","s":"e","x":701,"y":531},{"id":"e1","s":"e","x":705,"y":533},{"id":"e1","s":"e","x":708,"y":534},{"id":"e1","s":"e","x":712,"y":535},{"id":"e1","s":"e","x":717,"y":536},{"id":"e1","s":"e","x":722,"y":538},{"id":"e1","s":"e","x":726,"y":540},{"id":"e1","s":"e","x":730,"y":542},{"id":"e1","s":"e","x":734,"y":544},{"id":"e1","s":"e","x":738,"y":545},
{"id":"e2","s":"e","x":746,"y":547},{"id":"e2","s":"e","x":749,"y":543},{"id":"e2","s":"e","x":752,"y":543},{"id":"e2","s":"e","x":756,"y":556},{"id":"e2","s":"e","x":759,"y":568},{"id":"e2","s":"e","x":762,"y":575},{"id":"e2","s":"e","x":765,"y":570},{"id":"e2","s":"e","x":768,"y":567},{"id":"e2","s":"e","x":771,"y":560},{"id":"e2","s":"e","x":775,"y":548},{"id":"e2","s":"e","x":778,"y":540},{"id":"e2","s":"e","x":780,"y":535},{"id":"e2","s":"e","x":783,"y":536},{"id":"e2","s":"e","x":785,"y":530},{"id":"e2","s":"e","x":788,"y":538},{"id":"e2","s":"e","x":792,"y":541},{"id":"e2","s":"e","x":797,"y":542},{"id":"e2","s":"e","x":803,"y":540},{"id":"e2","s":"e","x":809,"y":541},{"id":"e2","s":"e","x":815,"y":540},{"id":"e2","s":"e","x":820,"y":543},{"id":"e2","s":"e","x":825,"y":545},{"id":"e2","s":"e","x":830,"y":552},{"id":"e2","s":"e","x":835,"y":565},{"id":"e2","s":"e","x":838,"y":557},{"id":"e2","s":"e","x":840,"y":555},{"id":"e2","s":"e","x":843,"y":565},{"id":"e2","s":"e","x":846,"y":558},{"id":"e2","s":"e","x":848,"y":555},
{"id":"e3","s":"e","x":856,"y":553},{"id":"e3","s":"e","x":862,"y":552},{"id":"e3","s":"e","x":867,"y":560},{"id":"e3","s":"e","x":873,"y":570},{"id":"e3","s":"e","x":877,"y":566},{"id":"e3","s":"e","x":882,"y":560},{"id":"e3","s":"e","x":886,"y":559},{"id":"e3","s":"e","x":889,"y":548},{"id":"e3","s":"e","x":892,"y":532},{"id":"e3","s":"e","x":895,"y":523},{"id":"e3","s":"e","x":898,"y":527},{"id":"e3","s":"e","x":901,"y":531},{"id":"e3","s":"e","x":905,"y":533},{"id":"e3","s":"e","x":911,"y":535},{"id":"e3","s":"e","x":917,"y":537},{"id":"e3","s":"e","x":925,"y":542},{"id":"e3","s":"e","x":933,"y":547},{"id":"e3","s":"e","x":941,"y":551},{"id":"e3","s":"e","x":950,"y":557},{"id":"e3","s":"e","x":955,"y":562},{"id":"e3","s":"e","x":960,"y":567},
{"id":"e4","s":"e","x":967,"y":552},{"id":"e4","s":"e","x":973,"y":552},{"id":"e4","s":"e","x":977,"y":559},{"id":"e4","s":"e","x":980,"y":563},{"id":"e4","s":"e","x":984,"y":561},{"id":"e4","s":"e","x":987,"y":560},{"id":"e4","s":"e","x":991,"y":553},{"id":"e4","s":"e","x":995,"y":545},{"id":"e4","s":"e","x":997,"y":535},{"id":"e4","s":"e","x":999,"y":533},{"id":"e4","s":"e","x":1001,"y":542},{"id":"e4","s":"e","x":1004,"y":550},{"id":"e4","s":"e","x":1010,"y":555},{"id":"e4","s":"e","x":1017,"y":553},{"id":"e4","s":"e","x":1022,"y":551},{"id":"e4","s":"e","x":1027,"y":553},{"id":"e4","s":"e","x":1033,"y":555},{"id":"e4","s":"e","x":1040,"y":556},{"id":"e4","s":"e","x":1047,"y":558},{"id":"e4","s":"e","x":1052,"y":561},{"id":"e4","s":"e","x":1057,"y":564},{"id":"e4","s":"e","x":1062,"y":566},{"id":"e4","s":"e","x":1067,"y":572},
{"id":"e5","s":"e","x":1078,"y":545},{"id":"e5","s":"e","x":1082,"y":537},{"id":"e5","s":"e","x":1085,"y":545},{"id":"e5","s":"e","x":1088,"y":549},{"id":"e5","s":"e","x":1094,"y":552},{"id":"e5","s":"e","x":1100,"y":555},{"id":"e5","s":"e","x":1105,"y":547},{"id":"e5","s":"e","x":1108,"y":540},{"id":"e5","s":"e","x":1111,"y":550},{"id":"e5","s":"e","x":1115,"y":553},{"id":"e5","s":"e","x":1121,"y":555},{"id":"e5","s":"e","x":1127,"y":557},{"id":"e5","s":"e","x":1132,"y":550},{"id":"e5","s":"e","x":1137,"y":540},{"id":"e5","s":"e","x":1140,"y":550},{"id":"e5","s":"e","x":1144,"y":553},{"id":"e5","s":"e","x":1150,"y":555},{"id":"e5","s":"e","x":1157,"y":557},{"id":"e5","s":"e","x":1161,"y":548},{"id":"e5","s":"e","x":1165,"y":538},{"id":"e5","s":"e","x":1168,"y":550},{"id":"e5","s":"e","x":1172,"y":552},{"id":"e5","s":"e","x":1177,"y":554},{"id":"e5","s":"e","x":1182,"y":557},
{"id":"f1","s":"e","x":635,"y":737},{"id":"f1","s":"e","x":642,"y":736},{"id":"f1","s":"e","x":648,"y":737},{"id":"f1","s":"e","x":655,"y":735},{"id":"f1","s":"e","x":663,"y":735},{"id":"f1","s":"e","x":667,"y":728},{"id":"f1","s":"e","x":670,"y":720},{"id":"f1","s":"e","x":674,"y":713},{"id":"f1","s":"e","x":677,"y":708},{"id":"f1","s":"e","x":680,"y":704},{"id":"f1","s":"e","x":683,"y":699},{"id":"f1","s":"e","x":689,"y":698},{"id":"f1","s":"e","x":695,"y":698},{"id":"f1","s":"e","x":700,"y":700},{"id":"f1","s":"e","x":705,"y":702},{"id":"f1","s":"e","x":710,"y":705},{"id":"f1","s":"e","x":715,"y":708},{"id":"f1","s":"e","x":720,"y":713},{"id":"f1","s":"e","x":725,"y":718},{"id":"f1","s":"e","x":731,"y":722},{"id":"f1","s":"e","x":737,"y":727},
{"id":"f2","s":"e","x":746,"y":720},{"id":"f2","s":"e","x":752,"y":721},{"id":"f2","s":"e","x":755,"y":735},{"id":"f2","s":"e","x":758,"y":750},{"id":"f2","s":"e","x":763,"y":760},{"id":"f2","s":"e","x":766,"y":748},{"id":"f2","s":"e","x":768,"y":737},{"id":"f2","s":"e","x":772,"y":722},{"id":"f2","s":"e","x":775,"y":710},{"id":"f2","s":"e","x":778,"y":705},{"id":"f2","s":"e","x":781,"y":700},{"id":"f2","s":"e","x":785,"y":707},{"id":"f2","s":"e","x":790,"y":712},{"id":"f2","s":"e","x":795,"y":715},{"id":"f2","s":"e","x":800,"y":718},{"id":"f2","s":"e","x":806,"y":723},{"id":"f2","s":"e","x":812,"y":727},{"id":"f2","s":"e","x":815,"y":720},{"id":"f2","s":"e","x":818,"y":717},{"id":"f2","s":"e","x":823,"y":719},{"id":"f2","s":"e","x":828,"y":718},{"id":"f2","s":"e","x":831,"y":725},{"id":"f2","s":"e","x":835,"y":727},{"id":"f2","s":"e","x":839,"y":718},{"id":"f2","s":"e","x":843,"y":713},{"id":"f2","s":"e","x":846,"y":716},{"id":"f2","s":"e","x":849,"y":720},
{"id":"f3","s":"e","x":856,"y":733},{"id":"f3","s":"e","x":862,"y":733},{"id":"f3","s":"e","x":866,"y":740},{"id":"f3","s":"e","x":870,"y":748},{"id":"f3","s":"e","x":873,"y":753},{"id":"f3","s":"e","x":877,"y":746},{"id":"f3","s":"e","x":882,"y":738},{"id":"f3","s":"e","x":885,"y":725},{"id":"f3","s":"e","x":888,"y":715},{"id":"f3","s":"e","x":891,"y":706},{"id":"f3","s":"e","x":893,"y":700},{"id":"f3","s":"e","x":897,"y":710},{"id":"f3","s":"e","x":900,"y":716},{"id":"f3","s":"e","x":904,"y":722},{"id":"f3","s":"e","x":907,"y":728},{"id":"f3","s":"e","x":913,"y":730},{"id":"f3","s":"e","x":920,"y":728},{"id":"f3","s":"e","x":927,"y":727},{"id":"f3","s":"e","x":935,"y":724},{"id":"f3","s":"e","x":943,"y":723},{"id":"f3","s":"e","x":950,"y":721},{"id":"f3","s":"e","x":955,"y":723},{"id":"f3","s":"e","x":960,"y":723},
{"id":"f4","s":"e","x":967,"y":733},{"id":"f4","s":"e","x":973,"y":733},{"id":"f4","s":"e","x":977,"y":738},{"id":"f4","s":"e","x":982,"y":742},{"id":"f4","s":"e","x":985,"y":733},{"id":"f4","s":"e","x":988,"y":727},{"id":"f4","s":"e","x":992,"y":718},{"id":"f4","s":"e","x":997,"y":710},{"id":"f4","s":"e","x":1000,"y":716},{"id":"f4","s":"e","x":1003,"y":722},{"id":"f4","s":"e","x":1007,"y":728},{"id":"f4","s":"e","x":1014,"y":727},{"id":"f4","s":"e","x":1023,"y":727},{"id":"f4","s":"e","x":1031,"y":724},{"id":"f4","s":"e","x":1040,"y":723},{"id":"f4","s":"e","x":1047,"y":721},{"id":"f4","s":"e","x":1053,"y":722},{"id":"f4","s":"e","x":1060,"y":720},{"id":"f4","s":"e","x":1068,"y":721},
{"id":"f5","s":"e","x":1078,"y":717},{"id":"f5","s":"e","x":1082,"y":727},{"id":"f5","s":"e","x":1087,"y":737},{"id":"f5","s":"e","x":1093,"y":745},{"id":"f5","s":"e","x":1098,"y":742},{"id":"f5","s":"e","x":1103,"y":737},{"id":"f5","s":"e","x":1106,"y":725},{"id":"f5","s":"e","x":1108,"y":717},{"id":"f5","s":"e","x":1111,"y":728},{"id":"f5","s":"e","x":1113,"y":740},{"id":"f5","s":"e","x":1120,"y":743},{"id":"f5","s":"e","x":1125,"y":737},{"id":"f5","s":"e","x":1128,"y":733},{"id":"f5","s":"e","x":1132,"y":718},{"id":"f5","s":"e","x":1135,"y":708},{"id":"f5","s":"e","x":1139,"y":716},{"id":"f5","s":"e","x":1142,"y":723},{"id":"f5","s":"e","x":1148,"y":735},{"id":"f5","s":"e","x":1155,"y":728},{"id":"f5","s":"e","x":1160,"y":716},{"id":"f5","s":"e","x":1165,"y":705},{"id":"f5","s":"e","x":1169,"y":713},{"id":"f5","s":"e","x":1173,"y":723},{"id":"f5","s":"e","x":1178,"y":730},{"id":"f5","s":"e","x":1182,"y":735}
]
},
"layer": [
 {"data": {"name": "boxes"}, "transform": [{"filter": "datum.k === 'ins'"}], "mark": {"type": "rect", "fill": "#f0f0f0", "stroke": "#5b8bc4", "strokeWidth": 2}, "encoding": {"x2": {"field": "x2"}, "y2": {"field": "y2"}}},
 {"data": {"name": "boxes"}, "transform": [{"filter": "datum.k === 'ew'"}], "mark": {"type": "rect", "fill": "#ffffff", "stroke": "#111111", "strokeWidth": 3}, "encoding": {"x2": {"field": "x2"}, "y2": {"field": "y2"}}},
 {"data": {"name": "boxes"}, "transform": [{"filter": "datum.k === 'eg'"}], "mark": {"type": "rect", "fill": "#f0f0f0", "stroke": "#111111", "strokeWidth": 3}, "encoding": {"x2": {"field": "x2"}, "y2": {"field": "y2"}}},
 {"data": {"name": "rules"}, "transform": [{"filter": "datum.s === 'pb'"}], "mark": {"type": "rule", "color": "#5b8bc4", "strokeWidth": 2}, "encoding": {"x2": {"field": "x2"}, "y2": {"field": "y2"}}},
 {"data": {"name": "rules"}, "transform": [{"filter": "datum.s === 'ax'"}], "mark": {"type": "rule", "color": "#9a9a9a", "strokeWidth": 1.5}, "encoding": {"x2": {"field": "x2"}, "y2": {"field": "y2"}}},
 {"data": {"name": "rules"}, "transform": [{"filter": "datum.s === 'axk'"}], "mark": {"type": "rule", "color": "#333333", "strokeWidth": 1.2}, "encoding": {"x2": {"field": "x2"}, "y2": {"field": "y2"}}},
 {"data": {"name": "rules"}, "transform": [{"filter": "datum.s === 'br'"}], "mark": {"type": "rule", "color": "#777777", "strokeWidth": 1.2}, "encoding": {"x2": {"field": "x2"}, "y2": {"field": "y2"}}},
 {"data": {"name": "rules"}, "transform": [{"filter": "datum.s === 'dl'"}], "mark": {"type": "rule", "color": "#333333", "strokeWidth": 1, "strokeDash": [2, 2]}, "encoding": {"x2": {"field": "x2"}, "y2": {"field": "y2"}}},
 {"data": {"name": "traces"}, "transform": [{"filter": "datum.s === 'g'"}], "mark": {"type": "line", "color": "#c8c8c8", "strokeWidth": 1.2}, "encoding": {"detail": {"field": "id"}}},
 {"data": {"name": "traces"}, "transform": [{"filter": "datum.s === 'd'"}], "mark": {"type": "line", "color": "#222222", "strokeWidth": 1.5, "strokeDash": [2, 2]}, "encoding": {"detail": {"field": "id"}}},
 {"data": {"name": "traces"}, "transform": [{"filter": "datum.s === 'ed'"}], "mark": {"type": "line", "color": "#666666", "strokeWidth": 1.1, "strokeDash": [3, 2]}, "encoding": {"detail": {"field": "id"}}},
 {"data": {"name": "traces"}, "transform": [{"filter": "datum.s === 'k'"}], "mark": {"type": "line", "color": "#000000", "strokeWidth": 2.6}, "encoding": {"detail": {"field": "id"}}},
 {"data": {"name": "traces"}, "transform": [{"filter": "datum.s === 'e'"}], "mark": {"type": "line", "color": "#000000", "strokeWidth": 2.4}, "encoding": {"detail": {"field": "id"}}},
 {"data": {"name": "traces"}, "transform": [{"filter": "datum.s === 'c'"}], "mark": {"type": "line", "color": "#000000", "strokeWidth": 1.6}, "encoding": {"detail": {"field": "id"}}},
 {"data": {"name": "rules"}, "transform": [{"filter": "datum.s === 'k'"}], "mark": {"type": "rule", "color": "#000000", "strokeWidth": 1.5}, "encoding": {"x2": {"field": "x2"}, "y2": {"field": "y2"}}},
 {"data": {"name": "texts"}, "transform": [{"filter": "datum.r === 'big'"}], "mark": {"type": "text", "align": "left", "baseline": "alphabetic", "font": "Lato", "fontSize": 28, "color": "#111111"}, "encoding": {"text": {"field": "t"}}},
 {"data": {"name": "texts"}, "transform": [{"filter": "datum.r === 'title'"}], "mark": {"type": "text", "align": "left", "baseline": "alphabetic", "font": "Lato", "fontSize": 20, "color": "#111111"}, "encoding": {"text": {"field": "t"}}},
 {"data": {"name": "texts"}, "transform": [{"filter": "datum.r === 'lab'"}], "mark": {"type": "text", "align": "left", "baseline": "alphabetic", "font": "Lato", "fontSize": 16, "color": "#111111"}, "encoding": {"text": {"field": "t"}}},
 {"data": {"name": "texts"}, "transform": [{"filter": "datum.r === 'labc'"}], "mark": {"type": "text", "align": "center", "baseline": "alphabetic", "font": "Lato", "fontSize": 16, "color": "#111111"}, "encoding": {"text": {"field": "t"}}},
 {"data": {"name": "texts"}, "transform": [{"filter": "datum.r === 'row'"}], "mark": {"type": "text", "align": "left", "baseline": "alphabetic", "font": "Lato", "fontSize": 18.5, "color": "#111111"}, "encoding": {"text": {"field": "t"}}},
 {"data": {"name": "texts"}, "transform": [{"filter": "datum.r === 'ctl'"}], "mark": {"type": "text", "align": "left", "baseline": "alphabetic", "font": "Lato", "fontSize": 17, "color": "#111111"}, "encoding": {"text": {"field": "t"}}},
 {"data": {"name": "texts"}, "transform": [{"filter": "datum.r === 'eye'"}], "mark": {"type": "text", "align": "left", "baseline": "alphabetic", "font": "Lato", "fontSize": 21, "color": "#111111"}, "encoding": {"text": {"field": "t"}}},
 {"data": {"name": "texts"}, "transform": [{"filter": "datum.r === 'fld'"}], "mark": {"type": "text", "align": "left", "baseline": "alphabetic", "font": "Lato", "fontSize": 16, "color": "#111111"}, "encoding": {"text": {"field": "t"}}},
 {"data": {"name": "texts"}, "transform": [{"filter": "datum.r === 'ms'"}], "mark": {"type": "text", "align": "left", "baseline": "alphabetic", "font": "Lato", "fontSize": 15, "color": "#111111"}, "encoding": {"text": {"field": "t"}}},
 {"data": {"name": "texts"}, "transform": [{"filter": "datum.r === 'es'"}], "mark": {"type": "text", "align": "left", "baseline": "alphabetic", "font": "Lato", "fontSize": 12, "color": "#111111"}, "encoding": {"text": {"field": "t"}}},
 {"data": {"name": "texts"}, "transform": [{"filter": "datum.r === 'ess'"}], "mark": {"type": "text", "align": "left", "baseline": "alphabetic", "font": "Lato", "fontSize": 10, "color": "#111111"}, "encoding": {"text": {"field": "t"}}},
 {"data": {"name": "texts"}, "transform": [{"filter": "datum.r === 'sc'"}], "mark": {"type": "text", "align": "center", "baseline": "alphabetic", "font": "Lato", "fontSize": 25, "color": "#111111"}, "encoding": {"text": {"field": "t"}}},
 {"data": {"name": "texts"}, "transform": [{"filter": "datum.r === 'ty'"}], "mark": {"type": "text", "align": "center", "baseline": "alphabetic", "font": "Lato", "fontSize": 21.5, "color": "#111111"}, "encoding": {"text": {"field": "t"}}},
 {"data": {"name": "texts"}, "transform": [{"filter": "datum.r === 'et'"}], "mark": {"type": "text", "align": "center", "baseline": "alphabetic", "font": "Lato", "fontSize": 9, "color": "#444444"}, "encoding": {"text": {"field": "t"}}}
]
}
